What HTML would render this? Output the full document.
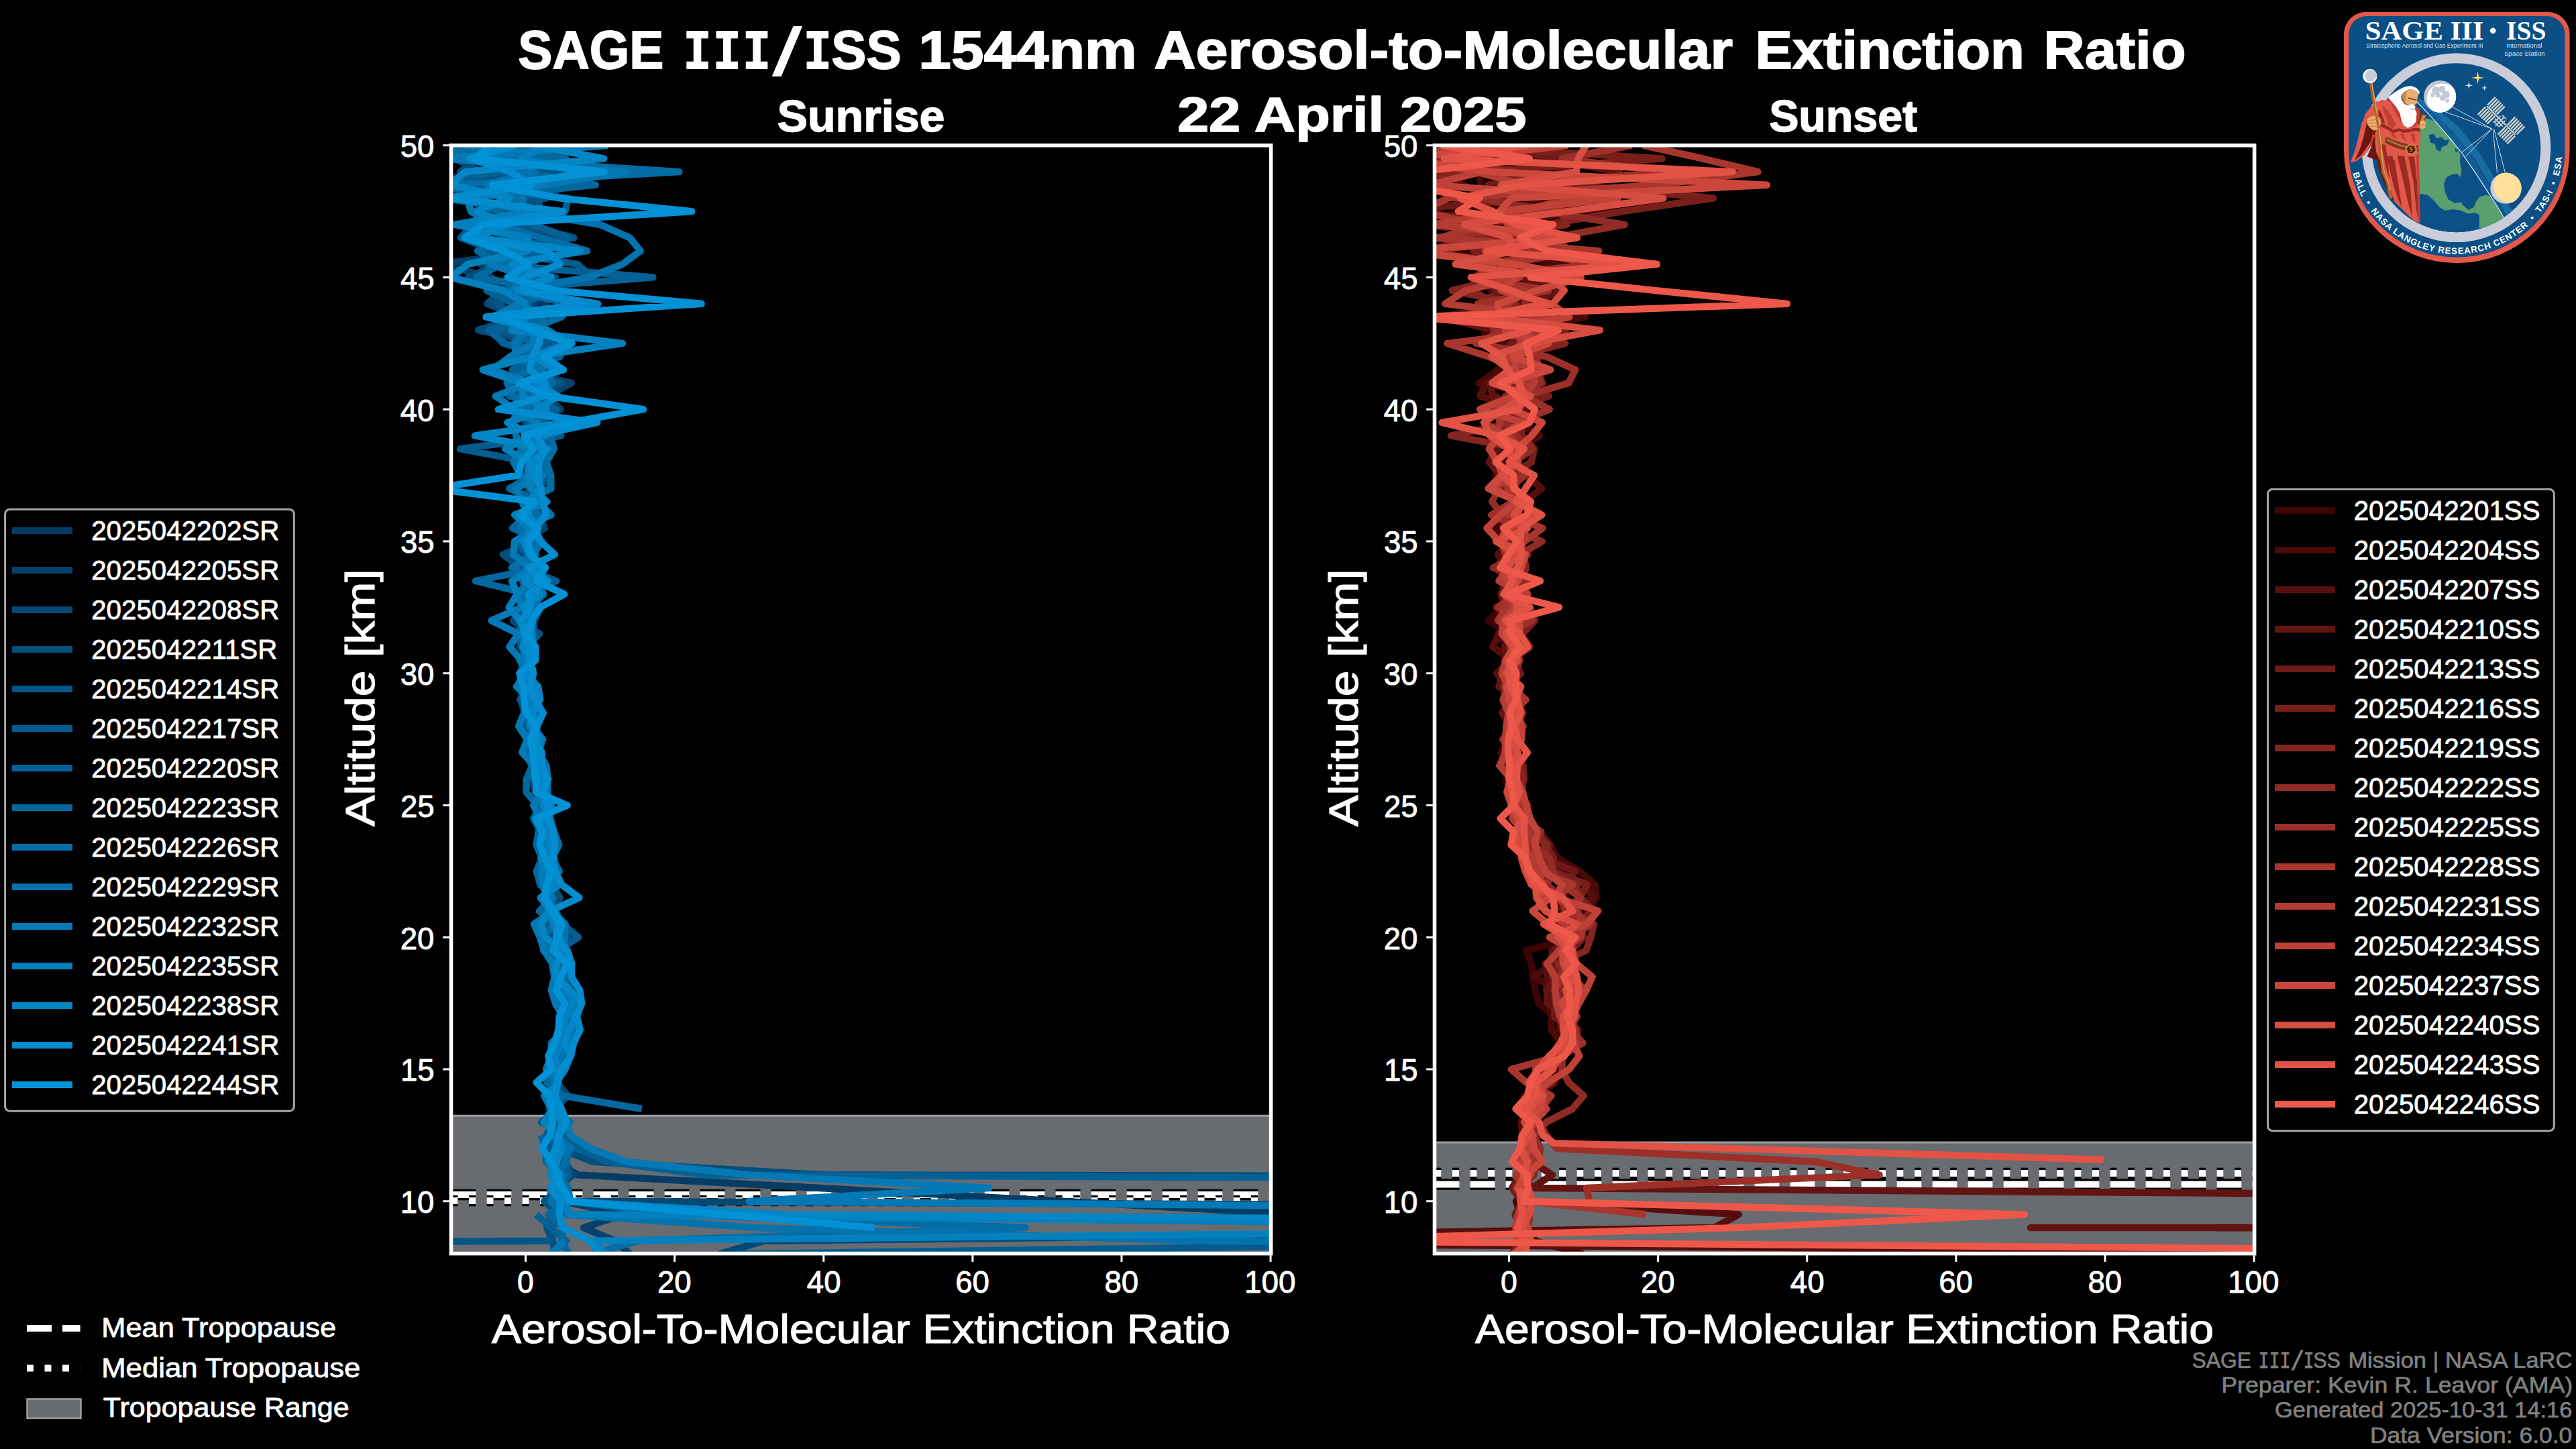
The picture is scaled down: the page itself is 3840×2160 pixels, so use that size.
<!DOCTYPE html>
<html><head><meta charset="utf-8"><title>SAGE III/ISS 1544nm Aerosol-to-Molecular Extinction Ratio</title>
<style>
html,body{margin:0;padding:0;background:#000;width:100%;height:100%;overflow:hidden}
svg{display:block;position:absolute;left:0;top:0;width:100vw;height:100vh}
text{white-space:pre}
</style></head><body>
<svg width="3840" height="2160" viewBox="0 0 3840 2160">
<rect width="3840" height="2160" fill="#000"/>
<defs>
<clipPath id="clip0"><rect x="672.50" y="216.70" width="1222.10" height="1651.90"/></clipPath>
<clipPath id="clip1"><rect x="2138.50" y="216.70" width="1222.10" height="1651.90"/></clipPath>
</defs>
<g clip-path="url(#clip0)">
<rect x="672.50" y="1663.21" width="1222.10" height="215.39" fill="#686b70"/>
<line x1="672.50" x2="1894.60" y1="1663.21" y2="1663.21" stroke="#9c9ea2" stroke-width="3"/>
<line x1="672.50" x2="1894.60" y1="1781.02" y2="1781.02" stroke="#000" stroke-width="16.5" stroke-dasharray="37 16"/>
<line x1="672.50" x2="1894.60" y1="1781.02" y2="1781.02" stroke="#fff" stroke-width="10" stroke-dasharray="37 16"/>
<line x1="672.50" x2="1894.60" y1="1789.99" y2="1789.99" stroke="#000" stroke-width="16.5" stroke-dasharray="10 16.5"/>
<line x1="672.50" x2="1894.60" y1="1789.99" y2="1789.99" stroke="#fff" stroke-width="10" stroke-dasharray="10 16.5"/>
</g>
<g clip-path="url(#clip1)">
<rect x="2138.50" y="1702.95" width="1222.10" height="175.65" fill="#686b70"/>
<line x1="2138.50" x2="3360.60" y1="1702.95" y2="1702.95" stroke="#9c9ea2" stroke-width="3"/>
<line x1="2138.50" x2="3360.60" y1="1765.52" y2="1765.52" stroke="#000" stroke-width="16.5" stroke-dasharray="37 16"/>
<line x1="2138.50" x2="3360.60" y1="1765.52" y2="1765.52" stroke="#fff" stroke-width="10" stroke-dasharray="37 16"/>
<line x1="2138.50" x2="3360.60" y1="1748.99" y2="1748.99" stroke="#000" stroke-width="16.5" stroke-dasharray="10 16.5"/>
<line x1="2138.50" x2="3360.60" y1="1748.99" y2="1748.99" stroke="#fff" stroke-width="10" stroke-dasharray="10 16.5"/>
</g>
<g clip-path="url(#clip0)" fill="none" stroke-width="10.4" stroke-linejoin="round" stroke-linecap="butt">
<path d="M861.9 216.7 L739.5 236.4 L731.0 256.1 L603.7 275.7 L763.0 295.4 L746.6 315.1 L736.2 334.8 L789.1 354.4 L795.9 374.1 L717.1 393.8 L730.7 413.4 L758.2 433.1 L813.1 452.8 L808.0 472.5 L736.2 492.1 L748.8 511.8 L813.1 531.5 L837.0 551.2 L787.8 570.9 L770.8 590.5 L819.4 610.2 L782.9 629.9 L809.0 649.5 L826.6 669.2 L807.0 688.9 L798.4 708.6 L805.5 728.2 L781.7 747.9 L788.7 767.6 L782.5 787.3 L787.2 807.0 L783.6 826.6 L786.7 846.3 L784.6 866.0 L789.5 885.7 L787.0 905.3 L788.8 925.0 L798.5 944.7 L774.3 964.3 L795.4 984.0 L783.8 1003.7 L778.6 1023.4 L786.8 1043.0 L791.7 1062.7 L799.1 1082.4 L789.2 1102.1 L798.2 1121.8 L800.8 1141.4 L792.6 1161.1 L797.9 1180.8 L812.3 1200.5 L814.8 1220.1 L817.4 1239.8 L814.9 1259.5 L814.8 1279.2 L811.9 1298.8 L822.0 1318.5 L809.5 1338.2 L816.1 1357.9 L823.7 1377.5 L808.4 1397.2 L840.9 1416.9 L824.6 1436.6 L833.5 1456.2 L856.7 1475.9 L835.4 1495.6 L838.8 1515.2 L849.0 1534.9 L823.2 1554.6 L818.9 1574.3 L820.0 1594.0 L820.0 1613.6 L821.2 1633.3 L818.3 1653.0 L827.0 1672.7 L827.2 1692.3 L823.5 1712.0 L828.0 1731.7 L861.3 1751.4 L1222.2 1771.0 L1583.1 1790.7 L1944.0 1810.4 L4115.1 1830.1" stroke="#043c64"/>
<path d="M812.5 216.7 L680.1 236.4 L813.6 256.1 L806.5 275.7 L695.5 295.4 L772.1 315.1 L709.8 334.8 L833.8 354.4 L811.6 374.1 L652.0 393.8 L732.4 413.4 L760.5 433.1 L795.0 452.8 L807.5 472.5 L778.5 492.1 L843.4 511.8 L779.8 531.5 L765.6 551.2 L852.0 570.9 L815.6 590.5 L835.7 610.2 L793.8 629.9 L788.5 649.5 L798.7 669.2 L800.5 688.9 L814.3 708.6 L816.8 728.2 L785.4 747.9 L804.1 767.6 L811.9 787.3 L773.2 807.0 L782.5 826.6 L801.6 846.3 L783.5 866.0 L781.4 885.7 L778.9 905.3 L787.3 925.0 L796.9 944.7 L791.5 964.3 L792.1 984.0 L789.9 1003.7 L797.1 1023.4 L774.8 1043.0 L800.7 1062.7 L792.6 1082.4 L803.0 1102.1 L795.2 1121.8 L804.3 1141.4 L817.9 1161.1 L803.3 1180.8 L810.2 1200.5 L815.6 1220.1 L815.4 1239.8 L819.2 1259.5 L826.5 1279.2 L829.1 1298.8 L816.3 1318.5 L830.7 1338.2 L828.4 1357.9 L830.2 1377.5 L843.9 1397.2 L836.1 1416.9 L838.9 1436.6 L837.2 1456.2 L852.2 1475.9 L857.3 1495.6 L841.5 1515.2 L854.7 1534.9 L844.0 1554.6 L822.5 1574.3 L824.4 1594.0 L824.2 1613.6 L831.8 1633.3 L834.7 1653.0 L831.9 1672.7 L835.5 1692.3 L825.0 1712.0 L822.4 1731.7 L844.6 1751.4 L833.5 1771.0 L839.1 1790.7 L929.0 1810.4 L870.2 1830.1 L916.8 1849.7 L939.0 1869.4" stroke="#04426c"/>
<path d="M739.9 216.7 L677.6 236.4 L718.2 256.1 L857.5 275.7 L777.8 295.4 L745.9 315.1 L691.3 334.8 L768.1 354.4 L775.9 374.1 L743.5 393.8 L828.3 413.4 L754.1 433.1 L777.9 452.8 L822.0 472.5 L799.2 492.1 L829.7 511.8 L781.8 531.5 L777.0 551.2 L805.6 570.9 L795.5 590.5 L820.6 610.2 L800.3 629.9 L789.4 649.5 L799.8 669.2 L802.9 688.9 L772.5 708.6 L788.6 728.2 L785.4 747.9 L806.7 767.6 L782.9 787.3 L802.1 807.0 L773.3 826.6 L787.1 846.3 L799.2 866.0 L782.4 885.7 L795.9 905.3 L764.9 925.0 L785.5 944.7 L788.1 964.3 L786.1 984.0 L776.7 1003.7 L792.3 1023.4 L775.7 1043.0 L797.0 1062.7 L795.8 1082.4 L800.4 1102.1 L796.3 1121.8 L794.7 1141.4 L799.5 1161.1 L802.7 1180.8 L812.0 1200.5 L809.0 1220.1 L813.2 1239.8 L814.4 1259.5 L819.8 1279.2 L801.3 1298.8 L812.1 1318.5 L818.3 1338.2 L819.5 1357.9 L815.0 1377.5 L823.4 1397.2 L826.5 1416.9 L833.1 1436.6 L831.2 1456.2 L835.0 1475.9 L836.3 1495.6 L843.8 1515.2 L853.6 1534.9 L831.2 1554.6 L839.7 1574.3 L841.2 1594.0 L829.9 1613.6 L846.6 1633.3 L827.3 1653.0 L846.2 1672.7 L829.0 1692.3 L821.5 1712.0 L840.8 1731.7 L854.9 1751.4 L828.0 1771.0 L850.2 1790.7 L5225.6 1810.4 L2937.9 1830.1 L1138.9 1849.7 L1072.3 1869.4" stroke="#044874"/>
<path d="M792.4 216.7 L712.3 236.4 L685.8 256.1 L840.3 275.7 L814.0 295.4 L705.0 315.1 L763.7 334.8 L845.8 354.4 L758.8 374.1 L745.4 393.8 L698.4 413.4 L747.7 433.1 L726.5 452.8 L778.3 472.5 L713.0 492.1 L807.4 511.8 L808.2 531.5 L777.6 551.2 L774.3 570.9 L829.5 590.5 L764.7 610.2 L815.0 629.9 L810.7 649.5 L775.8 669.2 L778.1 688.9 L791.6 708.6 L792.2 728.2 L778.3 747.9 L796.6 767.6 L767.7 787.3 L797.8 807.0 L749.9 826.6 L776.2 846.3 L781.1 866.0 L796.7 885.7 L776.2 905.3 L796.0 925.0 L796.2 944.7 L787.7 964.3 L781.9 984.0 L775.2 1003.7 L788.7 1023.4 L795.9 1043.0 L786.6 1062.7 L792.5 1082.4 L790.3 1102.1 L805.5 1121.8 L802.2 1141.4 L810.8 1161.1 L803.0 1180.8 L812.1 1200.5 L815.5 1220.1 L811.7 1239.8 L817.6 1259.5 L811.6 1279.2 L815.1 1298.8 L821.5 1318.5 L834.7 1338.2 L827.9 1357.9 L829.3 1377.5 L813.0 1397.2 L825.5 1416.9 L845.0 1436.6 L845.0 1456.2 L849.6 1475.9 L855.1 1495.6 L850.4 1515.2 L835.5 1534.9 L848.9 1554.6 L839.9 1574.3 L824.0 1594.0 L832.8 1613.6 L830.3 1633.3 L826.5 1653.0 L840.4 1672.7 L823.0 1692.3 L833.5 1712.0 L883.5 1731.7 L1227.8 1751.4 L10778.1 1771.0M824.2 1810.4 L815.2 1830.1 L824.2 1849.7 L826.8 1869.4" stroke="#044e7c"/>
<path d="M787.0 216.7 L781.0 236.4 L832.1 256.1 L631.5 275.7 L800.1 295.4 L807.1 315.1 L775.3 334.8 L855.4 354.4 L722.4 374.1 L795.2 393.8 L757.8 413.4 L779.1 433.1 L739.6 452.8 L778.3 472.5 L810.3 492.1 L791.1 511.8 L799.5 531.5 L764.5 551.2 L836.6 570.9 L770.7 590.5 L791.0 610.2 L805.7 629.9 L788.3 649.5 L809.3 669.2 L795.6 688.9 L819.7 708.6 L798.5 728.2 L795.0 747.9 L778.3 767.6 L796.0 787.3 L801.7 807.0 L792.2 826.6 L775.1 846.3 L779.0 866.0 L784.1 885.7 L786.8 905.3 L772.1 925.0 L804.2 944.7 L785.0 964.3 L786.1 984.0 L781.9 1003.7 L786.9 1023.4 L802.1 1043.0 L787.2 1062.7 L792.6 1082.4 L792.1 1102.1 L797.7 1121.8 L810.3 1141.4 L803.4 1161.1 L806.9 1180.8 L803.5 1200.5 L812.2 1220.1 L817.5 1239.8 L813.6 1259.5 L814.7 1279.2 L822.3 1298.8 L820.0 1318.5 L819.2 1338.2 L815.8 1357.9 L811.4 1377.5 L846.1 1397.2 L818.6 1416.9 L841.9 1436.6 L835.4 1456.2 L836.7 1475.9 L851.6 1495.6 L840.1 1515.2 L852.2 1534.9 L829.4 1554.6 L833.8 1574.3 L832.6 1594.0 L818.1 1613.6 L838.7 1633.3 L833.0 1653.0 L807.2 1672.7 L848.9 1692.3 L856.7 1712.0 L831.6 1731.7 L831.6 1751.4 L836.1 1771.0 L811.0 1790.7 L834.1 1810.4 L822.4 1830.1 L822.4 1849.7 L-2548.0 1869.4" stroke="#045585"/>
<path d="M730.9 216.7 L793.0 236.4 L744.2 256.1 L855.0 275.7 L662.6 295.4 L784.6 315.1 L703.8 334.8 L687.0 354.4 L738.1 374.1 L860.9 393.8 L882.3 413.4 L769.4 433.1 L789.4 452.8 L772.7 472.5 L739.5 492.1 L826.1 511.8 L788.1 531.5 L816.0 551.2 L782.5 570.9 L776.9 590.5 L779.8 610.2 L787.1 629.9 L836.3 649.5 L685.8 669.2 L792.1 688.9 L792.6 708.6 L759.4 728.2 L806.5 747.9 L786.8 767.6 L801.4 787.3 L801.1 807.0 L788.7 826.6 L780.0 846.3 L829.2 866.0 L774.0 885.7 L798.6 905.3 L790.7 925.0 L769.8 944.7 L778.1 964.3 L784.6 984.0 L783.2 1003.7 L781.1 1023.4 L776.5 1043.0 L782.1 1062.7 L783.2 1082.4 L794.2 1102.1 L797.0 1121.8 L797.7 1141.4 L807.5 1161.1 L808.3 1180.8 L808.9 1200.5 L810.1 1220.1 L805.2 1239.8 L822.4 1259.5 L811.7 1279.2 L823.2 1298.8 L811.4 1318.5 L820.8 1338.2 L827.9 1357.9 L838.7 1377.5 L862.2 1397.2 L831.5 1416.9 L840.4 1436.6 L849.3 1456.2 L846.5 1475.9 L864.3 1495.6 L854.6 1515.2 L857.7 1534.9 L841.8 1554.6 L834.6 1574.3 L823.9 1594.0 L825.9 1613.6 L833.3 1633.3 L836.2 1653.0 L825.5 1672.7 L814.4 1692.3 L825.1 1712.0 L843.7 1731.7 L847.6 1751.4 L833.6 1771.0 L833.8 1790.7 L839.1 1810.4 L5225.6 1830.1 L2515.9 1849.7 L1094.5 1869.4" stroke="#045b8d"/>
<path d="M744.7 216.7 L842.3 236.4 L743.0 256.1 L627.9 275.7 L846.6 295.4 L842.7 315.1 L795.0 334.8 L847.6 354.4 L808.8 374.1 L726.1 393.8 L973.4 413.4 L725.6 433.1 L765.9 452.8 L804.5 472.5 L728.6 492.1 L752.1 511.8 L835.2 531.5 L763.9 551.2 L765.3 570.9 L759.0 590.5 L829.3 610.2 L804.8 629.9 L807.2 649.5 L821.6 669.2 L807.9 688.9 L814.2 708.6 L795.8 728.2 L802.5 747.9 L797.0 767.6 L796.2 787.3 L772.4 807.0 L785.6 826.6 L783.3 846.3 L779.9 866.0 L786.7 885.7 L806.1 905.3 L796.1 925.0 L786.0 944.7 L788.2 964.3 L795.0 984.0 L774.7 1003.7 L786.6 1023.4 L796.0 1043.0 L798.7 1062.7 L795.0 1082.4 L795.3 1102.1 L784.4 1121.8 L792.4 1141.4 L798.0 1161.1 L803.6 1180.8 L805.7 1200.5 L795.2 1220.1 L805.8 1239.8 L811.7 1259.5 L806.5 1279.2 L810.3 1298.8 L817.9 1318.5 L815.6 1338.2 L815.0 1357.9 L825.0 1377.5 L835.8 1397.2 L824.2 1416.9 L823.1 1436.6 L826.4 1456.2 L834.5 1475.9 L841.0 1495.6 L833.4 1515.2 L833.8 1534.9 L835.1 1554.6 L838.8 1574.3 L826.5 1594.0 L818.3 1613.6 L826.2 1633.3 L822.1 1653.0 L820.1 1672.7 L844.6 1692.3 L861.3 1712.0 L905.7 1731.7 L1050.1 1751.4 L5225.6 1771.0M799.3 1810.4 L821.4 1830.1 L843.8 1849.7 L822.4 1869.4" stroke="#046195"/>
<path d="M646.6 216.7 L843.5 236.4 L772.0 256.1 L887.9 275.7 L692.0 295.4 L744.7 315.1 L754.1 334.8 L771.4 354.4 L711.8 374.1 L747.3 393.8 L710.3 413.4 L833.2 433.1 L771.5 452.8 L810.3 472.5 L765.4 492.1 L790.6 511.8 L774.9 531.5 L808.4 551.2 L825.1 570.9 L778.5 590.5 L795.2 610.2 L805.7 629.9 L792.5 649.5 L801.2 669.2 L786.3 688.9 L796.2 708.6 L759.5 728.2 L799.8 747.9 L785.6 767.6 L764.1 787.3 L805.7 807.0 L787.7 826.6 L807.7 846.3 L709.1 866.0 L789.8 885.7 L792.5 905.3 L787.7 925.0 L770.6 944.7 L787.1 964.3 L778.7 984.0 L778.8 1003.7 L789.0 1023.4 L786.0 1043.0 L790.5 1062.7 L791.1 1082.4 L789.3 1102.1 L791.4 1121.8 L793.4 1141.4 L784.8 1161.1 L784.5 1180.8 L801.1 1200.5 L804.3 1220.1 L802.7 1239.8 L799.6 1259.5 L807.9 1279.2 L799.9 1298.8 L805.2 1318.5 L824.5 1338.2 L803.8 1357.9 L827.2 1377.5 L832.9 1397.2 L810.3 1416.9 L833.4 1436.6 L833.1 1456.2 L843.8 1475.9 L846.5 1495.6 L848.5 1515.2 L849.2 1534.9 L837.4 1554.6 L823.6 1574.3 L817.4 1594.0 L815.1 1613.6 L839.1 1633.3 L956.8 1653.0M806.7 1692.3 L812.9 1712.0 L813.9 1731.7 L842.1 1751.4 L833.8 1771.0 L850.4 1790.7 L817.0 1810.4 L840.5 1830.1 L836.9 1849.7 L848.2 1869.4" stroke="#04679d"/>
<path d="M660.8 216.7 L703.2 236.4 L1012.3 256.1 L672.1 275.7 L767.8 295.4 L777.6 315.1 L744.2 334.8 L805.2 354.4 L875.2 374.1 L741.2 393.8 L804.1 413.4 L758.6 433.1 L851.7 452.8 L837.1 472.5 L785.7 492.1 L765.5 511.8 L814.5 531.5 L789.0 551.2 L755.7 570.9 L765.6 590.5 L789.0 610.2 L848.2 629.9 L820.9 649.5 L825.7 669.2 L814.6 688.9 L821.2 708.6 L821.4 728.2 L779.9 747.9 L803.0 767.6 L801.0 787.3 L798.8 807.0 L798.6 826.6 L762.9 846.3 L794.4 866.0 L775.5 885.7 L800.0 905.3 L784.0 925.0 L787.2 944.7 L788.6 964.3 L774.6 984.0 L788.0 1003.7 L784.0 1023.4 L798.3 1043.0 L790.6 1062.7 L789.3 1082.4 L805.6 1102.1 L800.7 1121.8 L798.7 1141.4 L803.7 1161.1 L806.7 1180.8 L812.3 1200.5 L806.5 1220.1 L817.8 1239.8 L813.1 1259.5 L822.7 1279.2 L819.9 1298.8 L809.9 1318.5 L824.4 1338.2 L818.1 1357.9 L829.0 1377.5 L807.7 1397.2 L822.3 1416.9 L847.2 1436.6 L848.7 1456.2 L827.7 1475.9 L847.8 1495.6 L854.5 1515.2 L856.5 1534.9 L834.7 1554.6 L824.4 1574.3 L831.6 1594.0 L826.6 1613.6 L826.1 1633.3 L825.0 1653.0 L849.3 1672.7 L828.4 1692.3 L848.1 1712.0 L844.7 1731.7 L829.6 1751.4 L846.9 1771.0 L850.2 1790.7 L1005.7 1810.4 L1528.7 1830.1 L950.1 1849.7 L883.5 1869.4" stroke="#046da5"/>
<path d="M693.3 216.7 L779.2 236.4 L795.2 256.1 L725.4 275.7 L780.1 295.4 L777.2 315.1 L894.6 334.8 L939.0 354.4 L954.6 374.1 L927.9 393.8 L877.9 413.4 L764.3 433.1 L870.9 452.8 L777.8 472.5 L785.4 492.1 L769.7 511.8 L767.0 531.5 L808.2 551.2 L788.2 570.9 L800.0 590.5 L769.9 610.2 L765.5 629.9 L769.2 649.5 L778.0 669.2 L765.7 688.9 L776.4 708.6 L792.1 728.2 L800.5 747.9 L821.7 767.6 L775.8 787.3 L807.6 807.0 L795.0 826.6 L798.6 846.3 L802.7 866.0 L810.1 885.7 L789.6 905.3 L782.6 925.0 L793.8 944.7 L795.0 964.3 L793.5 984.0 L785.4 1003.7 L794.3 1023.4 L799.3 1043.0 L797.5 1062.7 L793.6 1082.4 L809.1 1102.1 L802.4 1121.8 L814.4 1141.4 L816.4 1161.1 L816.4 1180.8 L818.7 1200.5 L820.4 1220.1 L826.0 1239.8 L833.2 1259.5 L823.1 1279.2 L833.6 1298.8 L816.6 1318.5 L821.2 1338.2 L822.0 1357.9 L842.6 1377.5 L841.9 1397.2 L841.2 1416.9 L852.4 1436.6 L832.3 1456.2 L843.0 1475.9 L831.2 1495.6 L855.8 1515.2 L856.8 1534.9 L846.9 1554.6 L837.1 1574.3 L839.0 1594.0 L827.1 1613.6 L821.4 1633.3 L831.4 1653.0 L823.7 1672.7 L823.0 1692.3 L851.4 1712.0 L823.2 1731.7 L831.4 1751.4 L831.2 1771.0 L821.5 1790.7 L839.1 1810.4 L1127.8 1830.1 L1783.0 1849.7 L4115.1 1869.4" stroke="#0473ad"/>
<path d="M905.7 216.7 L658.6 236.4 L932.3 256.1 L810.9 275.7 L696.5 295.4 L701.9 315.1 L733.8 334.8 L718.3 354.4 L778.6 374.1 L731.1 393.8 L788.0 413.4 L762.7 433.1 L774.5 452.8 L736.0 472.5 L793.5 492.1 L796.6 511.8 L760.7 531.5 L734.6 551.2 L789.4 570.9 L738.8 590.5 L767.4 610.2 L798.6 629.9 L815.0 649.5 L781.2 669.2 L793.8 688.9 L808.9 708.6 L768.1 728.2 L777.9 747.9 L787.7 767.6 L800.1 787.3 L767.0 807.0 L765.1 826.6 L791.5 846.3 L791.8 866.0 L770.2 885.7 L778.2 905.3 L732.5 925.0 L772.9 944.7 L759.5 964.3 L777.1 984.0 L783.4 1003.7 L770.0 1023.4 L789.8 1043.0 L781.4 1062.7 L773.1 1082.4 L786.0 1102.1 L778.2 1121.8 L796.4 1141.4 L796.1 1161.1 L808.3 1180.8 L795.2 1200.5 L805.0 1220.1 L811.6 1239.8 L809.9 1259.5 L809.0 1279.2 L806.9 1298.8 L809.8 1318.5 L814.9 1338.2 L824.6 1357.9 L796.0 1377.5 L805.1 1397.2 L811.0 1416.9 L823.8 1436.6 L826.7 1456.2 L821.9 1475.9 L828.0 1495.6 L838.9 1515.2 L841.5 1534.9 L822.3 1554.6 L821.8 1574.3 L814.1 1594.0 L832.5 1613.6 L811.2 1633.3 L821.9 1653.0 L844.6 1672.7 L850.2 1692.3 L880.2 1712.0 L933.5 1731.7 L1116.7 1751.4 L1474.3 1771.0 L1116.7 1790.7 L3559.8 1810.4M841.1 1849.7 L822.0 1869.4" stroke="#0479b5"/>
<path d="M812.5 216.7 L777.9 236.4 L862.4 256.1 L789.0 275.7 L698.6 295.4 L791.6 315.1 L677.2 334.8 L787.7 354.4 L786.7 374.1 L697.3 393.8 L671.4 413.4 L750.0 433.1 L783.5 452.8 L785.6 472.5 L762.6 492.1 L927.9 511.8 L793.4 531.5 L719.7 551.2 L778.1 570.9 L778.7 590.5 L815.0 610.2 L756.3 629.9 L794.6 649.5 L753.4 669.2 L788.7 688.9 L787.4 708.6 L791.6 728.2 L815.6 747.9 L767.2 767.6 L789.6 787.3 L784.0 807.0 L794.4 826.6 L798.1 846.3 L763.1 866.0 L770.9 885.7 L758.8 905.3 L775.2 925.0 L782.9 944.7 L779.7 964.3 L786.3 984.0 L783.2 1003.7 L787.6 1023.4 L786.2 1043.0 L790.1 1062.7 L790.4 1082.4 L806.6 1102.1 L798.5 1121.8 L801.5 1141.4 L810.9 1161.1 L808.3 1180.8 L810.1 1200.5 L812.3 1220.1 L813.0 1239.8 L818.8 1259.5 L806.6 1279.2 L814.3 1298.8 L834.2 1318.5 L805.5 1338.2 L822.0 1357.9 L825.1 1377.5 L834.6 1397.2 L840.2 1416.9 L829.5 1436.6 L828.1 1456.2 L846.0 1475.9 L854.7 1495.6 L843.7 1515.2 L837.5 1534.9 L838.1 1554.6 L828.0 1574.3 L829.7 1594.0 L831.7 1613.6 L816.0 1633.3 L824.0 1653.0 L810.5 1672.7 L828.9 1692.3 L838.5 1712.0 L826.9 1731.7 L820.5 1751.4 L835.6 1771.0 L839.1 1790.7 L850.2 1810.4 L2782.5 1830.1 L883.5 1849.7 L905.7 1869.4" stroke="#0480be"/>
<path d="M793.6 216.7 L900.2 236.4 L693.5 256.1 L671.5 275.7 L759.0 295.4 L711.2 315.1 L757.5 334.8 L710.3 354.4 L865.1 374.1 L762.6 393.8 L822.3 413.4 L772.1 433.1 L891.2 452.8 L732.5 472.5 L816.4 492.1 L845.5 511.8 L796.6 531.5 L828.7 551.2 L799.5 570.9 L831.7 590.5 L800.5 610.2 L843.2 629.9 L708.0 649.5 L816.3 669.2 L791.4 688.9 L793.1 708.6 L807.0 728.2 L788.6 747.9 L787.5 767.6 L802.0 787.3 L780.3 807.0 L789.7 826.6 L805.8 846.3 L782.2 866.0 L804.7 885.7 L780.3 905.3 L794.0 925.0 L791.7 944.7 L779.6 964.3 L796.5 984.0 L782.1 1003.7 L802.1 1023.4 L805.1 1043.0 L793.2 1062.7 L800.1 1082.4 L800.2 1102.1 L796.3 1121.8 L802.9 1141.4 L807.6 1161.1 L811.3 1180.8 L821.9 1200.5 L813.7 1220.1 L813.8 1239.8 L822.7 1259.5 L826.2 1279.2 L819.2 1298.8 L822.4 1318.5 L813.5 1338.2 L818.1 1357.9 L806.6 1377.5 L812.5 1397.2 L839.7 1416.9 L829.5 1436.6 L827.9 1456.2 L849.5 1475.9 L867.3 1495.6 L857.0 1515.2 L849.0 1534.9 L842.7 1554.6 L850.3 1574.3 L842.5 1594.0 L829.2 1613.6 L824.7 1633.3 L828.3 1653.0 L837.4 1672.7 L833.5 1692.3 L833.4 1712.0 L830.4 1731.7 L820.8 1751.4 L833.5 1771.0 L844.6 1790.7 L1172.2 1810.4 L3670.8 1830.1" stroke="#0486c6"/>
<path d="M768.6 216.7 L700.4 236.4 L760.7 256.1 L792.3 275.7 L666.7 295.4 L839.1 315.1 L718.9 334.8 L700.7 354.4 L816.6 374.1 L834.9 393.8 L780.8 413.4 L781.6 433.1 L870.3 452.8 L724.5 472.5 L806.5 492.1 L803.7 511.8 L793.7 531.5 L790.1 551.2 L813.0 570.9 L811.2 590.5 L742.9 610.2 L890.2 629.9 L799.1 649.5 L812.5 669.2 L803.9 688.9 L802.0 708.6 L805.4 728.2 L809.7 747.9 L813.9 767.6 L798.1 787.3 L805.5 807.0 L827.1 826.6 L786.7 846.3 L816.7 866.0 L787.9 885.7 L791.2 905.3 L777.4 925.0 L781.6 944.7 L786.6 964.3 L790.9 984.0 L795.2 1003.7 L790.3 1023.4 L797.5 1043.0 L809.8 1062.7 L800.7 1082.4 L797.3 1102.1 L807.8 1121.8 L807.5 1141.4 L816.1 1161.1 L811.1 1180.8 L816.0 1200.5 L817.4 1220.1 L824.4 1239.8 L826.8 1259.5 L822.1 1279.2 L827.8 1298.8 L837.1 1318.5 L863.5 1338.2 L820.7 1357.9 L833.0 1377.5 L829.0 1397.2 L846.0 1416.9 L852.1 1436.6 L852.0 1456.2 L864.3 1475.9 L867.1 1495.6 L859.8 1515.2 L864.8 1534.9 L855.3 1554.6 L850.9 1574.3 L836.3 1594.0 L831.6 1613.6 L827.0 1633.3 L837.1 1653.0 L844.6 1672.7 L833.7 1692.3 L828.0 1712.0 L818.0 1731.7 L834.7 1751.4 L820.3 1771.0 L835.8 1790.7 L833.5 1810.4 L839.1 1830.1 L880.2 1849.7 L894.6 1869.4" stroke="#048cce"/>
<path d="M730.1 216.7 L708.7 236.4 L900.9 256.1 L733.5 275.7 L833.7 295.4 L1031.2 315.1 L718.9 334.8 L692.9 354.4 L751.6 374.1 L788.4 393.8 L756.6 413.4 L827.9 433.1 L1045.6 452.8 L751.7 472.5 L792.5 492.1 L852.7 511.8 L810.5 531.5 L840.0 551.2 L773.5 570.9 L817.6 590.5 L959.0 610.2 L849.3 629.9 L781.7 649.5 L794.8 669.2 L777.4 688.9 L772.1 708.6 L644.7 728.2 L797.6 747.9 L775.2 767.6 L801.7 787.3 L787.7 807.0 L790.0 826.6 L813.2 846.3 L799.2 866.0 L841.3 885.7 L805.5 905.3 L791.6 925.0 L785.7 944.7 L798.2 964.3 L798.4 984.0 L774.4 1003.7 L780.3 1023.4 L781.2 1043.0 L784.3 1062.7 L798.5 1082.4 L791.1 1102.1 L794.5 1121.8 L796.5 1141.4 L798.4 1161.1 L799.4 1180.8 L845.7 1200.5 L798.9 1220.1 L808.3 1239.8 L804.7 1259.5 L812.6 1279.2 L821.6 1298.8 L814.9 1318.5 L812.0 1338.2 L825.1 1357.9 L837.5 1377.5 L831.7 1397.2 L824.5 1416.9 L845.4 1436.6 L836.2 1456.2 L829.3 1475.9 L842.4 1495.6 L834.2 1515.2 L832.5 1534.9 L827.1 1554.6 L817.5 1574.3 L821.5 1594.0 L799.6 1613.6 L819.3 1633.3 L822.4 1653.0 L823.6 1672.7 L819.8 1692.3 L807.6 1712.0 L822.3 1731.7 L830.0 1751.4 L839.1 1771.0 L851.3 1790.7 L1080.1 1810.4 L1303.3 1830.1" stroke="#0492d6"/>
</g>
<g clip-path="url(#clip1)" fill="none" stroke-width="10.4" stroke-linejoin="round" stroke-linecap="butt">
<path d="M2294.2 216.7 L2241.6 236.4 L2175.6 256.1 L2323.2 275.7 L2302.3 295.4 L2164.0 315.1 L2221.1 334.8 L2165.6 354.4 L2158.1 374.1 L2376.8 393.8 L2232.1 413.4 L2295.3 433.1 L2274.0 452.8 L2258.3 472.5 L2211.5 492.1 L2217.5 511.8 L2273.8 531.5 L2293.7 551.2 L2204.1 570.9 L2231.1 590.5 L2250.2 610.2 L2277.1 629.9 L2261.9 649.5 L2264.2 669.2 L2251.3 688.9 L2228.5 708.6 L2241.8 728.2 L2267.0 747.9 L2249.9 767.6 L2225.8 787.3 L2268.5 807.0 L2254.3 826.6 L2257.6 846.3 L2275.1 866.0 L2239.6 885.7 L2239.0 905.3 L2219.0 925.0 L2250.5 944.7 L2253.8 964.3 L2245.1 984.0 L2246.8 1003.7 L2256.1 1023.4 L2252.2 1043.0 L2252.7 1062.7 L2250.0 1082.4 L2251.9 1102.1 L2255.5 1121.8 L2250.0 1141.4 L2244.4 1161.1 L2251.1 1180.8 L2258.5 1200.5 L2276.3 1220.1 L2292.9 1239.8 L2298.4 1259.5 L2302.1 1279.2 L2293.8 1298.8 L2346.1 1318.5 L2332.6 1338.2 L2348.3 1357.9 L2367.4 1377.5 L2353.1 1397.2 L2275.1 1416.9 L2282.9 1436.6 L2285.1 1456.2 L2288.4 1475.9 L2294.0 1495.6 L2316.2 1515.2 L2354.3 1534.9 L2322.6 1554.6 L2321.3 1574.3 L2311.9 1594.0 L2311.1 1613.6 L2282.8 1633.3 L2298.2 1653.0 L2280.5 1672.7 L2269.9 1692.3 L2273.5 1712.0 L2274.9 1731.7 L2269.4 1751.4 L2264.7 1771.0 L2267.0 1790.7 L2274.0 1810.4 L2274.2 1830.1 L2280.9 1849.7 L2261.7 1869.4" stroke="#3e0304"/>
<path d="M2107.6 216.7 L2157.8 236.4 L2205.7 256.1 L2206.9 275.7 L2210.5 295.4 L2395.8 315.1 L2141.2 334.8 L2229.4 354.4 L2218.0 374.1 L2331.7 393.8 L2207.1 413.4 L2222.5 433.1 L2271.1 452.8 L2362.7 472.5 L2239.8 492.1 L2240.9 511.8 L2292.8 531.5 L2232.7 551.2 L2206.3 570.9 L2308.2 590.5 L2225.7 610.2 L2261.0 629.9 L2295.4 649.5 L2267.8 669.2 L2238.7 688.9 L2254.9 708.6 L2233.3 728.2 L2277.4 747.9 L2239.7 767.6 L2216.1 787.3 L2264.2 807.0 L2267.3 826.6 L2259.2 846.3 L2267.1 866.0 L2246.9 885.7 L2239.7 905.3 L2242.5 925.0 L2233.1 944.7 L2246.4 964.3 L2243.5 984.0 L2257.5 1003.7 L2252.3 1023.4 L2244.9 1043.0 L2247.0 1062.7 L2250.4 1082.4 L2249.5 1102.1 L2237.6 1121.8 L2244.2 1141.4 L2255.1 1161.1 L2257.3 1180.8 L2263.6 1200.5 L2277.5 1220.1 L2295.7 1239.8 L2310.6 1259.5 L2321.7 1279.2 L2355.0 1298.8 L2377.3 1318.5 L2379.5 1338.2 L2366.2 1357.9 L2360.3 1377.5 L2357.4 1397.2 L2313.2 1416.9 L2316.7 1436.6 L2284.6 1456.2 L2325.3 1475.9 L2308.1 1495.6 L2312.7 1515.2 L2312.6 1534.9 L2326.9 1554.6 L2316.2 1574.3 L2320.0 1594.0 L2318.5 1613.6 L2288.1 1633.3 L2269.8 1653.0 L2279.0 1672.7 L2273.6 1692.3 L2290.2 1712.0 L2281.2 1731.7 L2271.9 1751.4 L2278.8 1771.0 L2260.0 1790.7 L2266.4 1810.4 L2277.3 1830.1 L2288.4 1849.7 L2360.6 1869.4" stroke="#4a0909"/>
<path d="M2260.1 216.7 L2327.3 236.4 L2137.2 256.1 L2181.5 275.7 L2221.2 295.4 L2218.8 315.1 L2118.6 334.8 L2282.8 354.4 L2215.4 374.1 L2218.7 393.8 L2201.2 413.4 L2238.2 433.1 L2217.1 452.8 L2244.6 472.5 L2308.0 492.1 L2252.8 511.8 L2269.6 531.5 L2256.8 551.2 L2215.5 570.9 L2206.6 590.5 L2268.1 610.2 L2235.1 629.9 L2246.2 649.5 L2233.4 669.2 L2223.7 688.9 L2275.5 708.6 L2298.3 728.2 L2272.6 747.9 L2228.7 767.6 L2241.2 787.3 L2254.0 807.0 L2233.0 826.6 L2246.0 846.3 L2253.3 866.0 L2272.8 885.7 L2230.0 905.3 L2249.8 925.0 L2235.0 944.7 L2225.1 964.3 L2252.8 984.0 L2231.3 1003.7 L2244.3 1023.4 L2252.1 1043.0 L2249.0 1062.7 L2244.7 1082.4 L2251.5 1102.1 L2243.8 1121.8 L2244.3 1141.4 L2257.4 1161.1 L2254.8 1180.8 L2260.5 1200.5 L2270.9 1220.1 L2291.4 1239.8 L2310.8 1259.5 L2305.4 1279.2 L2322.4 1298.8 L2361.8 1318.5 L2375.5 1338.2 L2330.9 1357.9 L2376.3 1377.5 L2321.8 1397.2 L2341.3 1416.9 L2303.7 1436.6 L2306.9 1456.2 L2305.1 1475.9 L2309.7 1495.6 L2324.4 1515.2 L2325.5 1534.9 L2348.8 1554.6 L2314.3 1574.3 L2288.4 1594.0 L2291.7 1613.6 L2272.7 1633.3 L2275.2 1653.0 L2267.7 1672.7 L2270.0 1692.3 L2271.9 1712.0 L2274.6 1731.7 L2279.9 1751.4 L2277.3 1771.0 L2282.9 1790.7 L2591.6 1810.4 L2556.0 1830.1 L1299.0 1849.7 L3915.3 1869.4" stroke="#550e0d"/>
<path d="M2202.9 216.7 L2304.4 236.4 L2413.8 256.1 L2354.4 275.7 L2312.8 295.4 L2316.3 315.1 L2278.5 334.8 L2200.4 354.4 L2124.7 374.1 L2263.5 393.8 L2268.0 413.4 L2332.7 433.1 L2269.0 452.8 L2145.1 472.5 L2227.0 492.1 L2282.1 511.8 L2248.0 531.5 L2267.7 551.2 L2221.1 570.9 L2225.3 590.5 L2274.7 610.2 L2273.3 629.9 L2232.7 649.5 L2229.4 669.2 L2220.3 688.9 L2236.6 708.6 L2241.8 728.2 L2256.7 747.9 L2264.2 767.6 L2274.4 787.3 L2267.3 807.0 L2244.2 826.6 L2230.5 846.3 L2246.5 866.0 L2237.2 885.7 L2243.7 905.3 L2259.2 925.0 L2264.3 944.7 L2242.5 964.3 L2249.2 984.0 L2239.9 1003.7 L2234.5 1023.4 L2257.7 1043.0 L2239.2 1062.7 L2252.1 1082.4 L2243.8 1102.1 L2243.2 1121.8 L2252.5 1141.4 L2251.1 1161.1 L2250.9 1180.8 L2258.6 1200.5 L2269.2 1220.1 L2275.3 1239.8 L2280.6 1259.5 L2284.8 1279.2 L2314.2 1298.8 L2333.6 1318.5 L2306.3 1338.2 L2334.2 1357.9 L2324.4 1377.5 L2347.1 1397.2 L2314.6 1416.9 L2312.2 1436.6 L2317.2 1456.2 L2306.1 1475.9 L2306.3 1495.6 L2333.2 1515.2 L2338.9 1534.9 L2324.9 1554.6 L2313.7 1574.3 L2307.0 1594.0 L2291.8 1613.6 L2281.8 1633.3 L2285.5 1653.0 L2280.5 1672.7 L2283.6 1692.3 L2277.3 1712.0 L2282.9 1731.7 L2314.0 1751.4 L2282.9 1771.0 L4937.0 1790.7 L24459.5 1810.4 L3026.9 1830.1 L24459.5 1849.7" stroke="#611412"/>
<path d="M2213.2 216.7 L2333.6 236.4 L2337.8 256.1 L2218.1 275.7 L2241.3 295.4 L2101.2 315.1 L2275.3 334.8 L2204.6 354.4 L2351.4 374.1 L2422.7 393.8 L2193.2 413.4 L2236.4 433.1 L2205.5 452.8 L2213.8 472.5 L2309.5 492.1 L2251.9 511.8 L2243.5 531.5 L2262.7 551.2 L2290.7 570.9 L2287.2 590.5 L2210.7 610.2 L2267.4 629.9 L2249.6 649.5 L2276.6 669.2 L2254.3 688.9 L2264.4 708.6 L2246.8 728.2 L2274.4 747.9 L2231.1 767.6 L2268.0 787.3 L2241.7 807.0 L2244.1 826.6 L2267.3 846.3 L2237.4 866.0 L2247.2 885.7 L2247.4 905.3 L2250.5 925.0 L2266.3 944.7 L2281.1 964.3 L2254.7 984.0 L2266.9 1003.7 L2247.2 1023.4 L2260.9 1043.0 L2254.6 1062.7 L2246.2 1082.4 L2260.0 1102.1 L2261.0 1121.8 L2270.9 1141.4 L2272.1 1161.1 L2266.7 1180.8 L2276.8 1200.5 L2279.4 1220.1 L2291.1 1239.8 L2309.1 1259.5 L2297.0 1279.2 L2348.2 1298.8 L2332.6 1318.5 L2314.1 1338.2 L2353.9 1357.9 L2345.9 1377.5 L2349.5 1397.2 L2330.7 1416.9 L2317.9 1436.6 L2313.7 1456.2 L2316.3 1475.9 L2318.1 1495.6 L2317.1 1515.2 L2341.2 1534.9 L2342.8 1554.6 L2315.1 1574.3 L2295.2 1594.0 L2279.0 1613.6 L2297.5 1633.3 L2274.6 1653.0 L2290.5 1672.7 L2287.6 1692.3 L2278.9 1712.0 L2267.9 1731.7 L2264.7 1751.4 L2254.1 1771.0 L2268.8 1790.7 L2258.6 1810.4 L2265.2 1830.1 L2265.0 1849.7 L2254.4 1869.4" stroke="#6d1a17"/>
<path d="M2148.7 216.7 L2477.6 236.4 L2203.8 256.1 L2339.9 275.7 L2553.8 295.4 L2418.4 315.1 L2305.7 334.8 L2270.3 354.4 L2197.3 374.1 L2222.7 393.8 L2198.8 413.4 L2195.1 433.1 L2229.4 452.8 L2217.0 472.5 L2334.2 492.1 L2270.7 511.8 L2261.8 531.5 L2255.3 551.2 L2255.2 570.9 L2308.8 590.5 L2247.7 610.2 L2267.2 629.9 L2268.8 649.5 L2287.0 669.2 L2282.8 688.9 L2251.8 708.6 L2255.1 728.2 L2254.3 747.9 L2260.2 767.6 L2266.1 787.3 L2264.7 807.0 L2277.9 826.6 L2249.7 846.3 L2256.2 866.0 L2256.1 885.7 L2280.8 905.3 L2287.9 925.0 L2269.8 944.7 L2249.6 964.3 L2254.0 984.0 L2259.8 1003.7 L2256.8 1023.4 L2259.0 1043.0 L2270.3 1062.7 L2261.6 1082.4 L2253.5 1102.1 L2262.8 1121.8 L2257.7 1141.4 L2270.8 1161.1 L2268.4 1180.8 L2272.1 1200.5 L2277.1 1220.1 L2286.7 1239.8 L2303.5 1259.5 L2315.8 1279.2 L2314.3 1298.8 L2366.3 1318.5 L2354.8 1338.2 L2377.3 1357.9 L2344.7 1377.5 L2361.3 1397.2 L2341.5 1416.9 L2322.9 1436.6 L2320.6 1456.2 L2317.4 1475.9 L2341.2 1495.6 L2348.8 1515.2 L2344.0 1534.9 L2337.9 1554.6 L2330.4 1574.3 L2300.2 1594.0 L2288.6 1613.6 L2292.6 1633.3 L2271.9 1653.0 L2288.2 1672.7 L2269.5 1692.3 L2274.2 1712.0 L2289.9 1731.7 L2286.1 1751.4 L2256.8 1771.0 L2275.1 1790.7 L2276.9 1810.4 L2278.5 1830.1 L2260.7 1849.7 L2267.5 1869.4" stroke="#791f1b"/>
<path d="M2217.7 216.7 L2147.9 236.4 L2173.5 256.1 L2103.7 275.7 L2186.7 295.4 L2327.4 315.1 L2335.6 334.8 L2206.7 354.4 L2286.0 374.1 L2253.3 393.8 L2245.2 413.4 L2164.7 433.1 L2259.4 452.8 L2195.1 472.5 L2237.9 492.1 L2333.4 511.8 L2258.4 531.5 L2291.1 551.2 L2299.3 570.9 L2244.2 590.5 L2259.5 610.2 L2258.8 629.9 L2162.9 649.5 L2269.3 669.2 L2259.2 688.9 L2274.0 708.6 L2246.9 728.2 L2258.6 747.9 L2297.6 767.6 L2243.1 787.3 L2256.5 807.0 L2271.0 826.6 L2274.9 846.3 L2269.4 866.0 L2277.4 885.7 L2263.3 905.3 L2263.4 925.0 L2261.6 944.7 L2251.9 964.3 L2256.6 984.0 L2250.4 1003.7 L2259.4 1023.4 L2248.9 1043.0 L2255.4 1062.7 L2270.7 1082.4 L2261.4 1102.1 L2257.6 1121.8 L2266.6 1141.4 L2269.6 1161.1 L2261.4 1180.8 L2277.3 1200.5 L2272.6 1220.1 L2287.5 1239.8 L2305.4 1259.5 L2298.8 1279.2 L2307.3 1298.8 L2349.5 1318.5 L2353.7 1338.2 L2334.4 1357.9 L2375.7 1377.5 L2371.4 1397.2 L2364.4 1416.9 L2322.8 1436.6 L2334.2 1456.2 L2329.6 1475.9 L2339.4 1495.6 L2326.5 1515.2 L2330.0 1534.9 L2334.8 1554.6 L2327.0 1574.3 L2303.3 1594.0 L2313.8 1613.6 L2278.2 1633.3 L2282.9 1653.0 L2285.9 1672.7 L2279.3 1692.3 L2275.1 1712.0 L2260.2 1731.7 L2282.8 1751.4 L2259.0 1771.0 L2272.1 1790.7 L2268.5 1810.4 L2264.3 1830.1 L2271.7 1849.7 L2269.1 1869.4" stroke="#842520"/>
<path d="M2200.2 216.7 L2098.2 236.4 L2257.6 256.1 L2339.0 275.7 L2206.5 295.4 L2301.3 315.1 L2421.7 334.8 L2314.6 354.4 L2340.9 374.1 L2251.0 393.8 L2215.5 413.4 L2274.1 433.1 L2274.1 452.8 L2284.9 472.5 L2226.9 492.1 L2299.9 511.8 L2292.6 531.5 L2288.8 551.2 L2296.3 570.9 L2268.6 590.5 L2244.1 610.2 L2244.1 629.9 L2259.8 649.5 L2284.1 669.2 L2257.3 688.9 L2252.3 708.6 L2234.1 728.2 L2224.1 747.9 L2239.7 767.6 L2248.0 787.3 L2298.7 807.0 L2266.2 826.6 L2225.9 846.3 L2274.7 866.0 L2249.0 885.7 L2246.7 905.3 L2257.1 925.0 L2254.6 944.7 L2258.6 964.3 L2265.4 984.0 L2258.8 1003.7 L2242.0 1023.4 L2253.6 1043.0 L2251.5 1062.7 L2248.2 1082.4 L2256.8 1102.1 L2243.0 1121.8 L2248.4 1141.4 L2254.9 1161.1 L2251.3 1180.8 L2268.0 1200.5 L2268.1 1220.1 L2297.2 1239.8 L2286.4 1259.5 L2309.7 1279.2 L2316.0 1298.8 L2305.6 1318.5 L2327.6 1338.2 L2333.3 1357.9 L2350.0 1377.5 L2341.2 1397.2 L2326.7 1416.9 L2343.8 1436.6 L2323.9 1456.2 L2347.6 1475.9 L2331.1 1495.6 L2338.6 1515.2 L2349.8 1534.9 L2353.2 1554.6 L2329.5 1574.3 L2328.4 1594.0 L2338.4 1613.6 L2360.6 1633.3 L2343.9 1653.0 L2305.1 1672.7 L2286.8 1692.3 L2296.0 1712.0 L2293.1 1731.7 L2283.1 1751.4 L2273.4 1771.0 L2271.5 1790.7 L2280.6 1810.4 L2278.0 1830.1 L2274.4 1849.7 L2267.6 1869.4" stroke="#902b25"/>
<path d="M2432.3 216.7 L2328.7 236.4 L2481.1 256.1 L2278.3 275.7 L2331.3 295.4 L2275.5 315.1 L2300.1 334.8 L2139.6 354.4 L2277.0 374.1 L2374.6 393.8 L2203.5 413.4 L2308.4 433.1 L2202.6 452.8 L2293.6 472.5 L2243.0 492.1 L2200.2 511.8 L2305.1 531.5 L2348.4 551.2 L2338.4 570.9 L2271.8 590.5 L2309.8 610.2 L2261.3 629.9 L2254.3 649.5 L2255.1 669.2 L2263.0 688.9 L2269.7 708.6 L2253.5 728.2 L2255.8 747.9 L2223.0 767.6 L2264.8 787.3 L2238.1 807.0 L2244.3 826.6 L2244.1 846.3 L2259.2 866.0 L2258.7 885.7 L2233.0 905.3 L2284.2 925.0 L2239.0 944.7 L2255.8 964.3 L2254.7 984.0 L2239.3 1003.7 L2263.2 1023.4 L2253.4 1043.0 L2251.2 1062.7 L2261.6 1082.4 L2240.2 1102.1 L2256.7 1121.8 L2258.9 1141.4 L2258.4 1161.1 L2266.6 1180.8 L2266.0 1200.5 L2258.7 1220.1 L2279.5 1239.8 L2277.4 1259.5 L2282.6 1279.2 L2310.2 1298.8 L2328.9 1318.5 L2356.8 1338.2 L2344.5 1357.9 L2371.4 1377.5 L2341.7 1397.2 L2345.1 1416.9 L2332.5 1436.6 L2329.4 1456.2 L2317.5 1475.9 L2324.4 1495.6 L2345.9 1515.2 L2338.5 1534.9 L2359.5 1554.6 L2327.7 1574.3 L2310.0 1594.0 L2301.9 1613.6 L2290.2 1633.3 L2282.3 1653.0 L2294.0 1672.7 L2305.1 1692.3 L2320.6 1712.0 L2704.9 1731.7 L2801.5 1751.4 L2365.0 1771.0 L2369.5 1790.7M2263.1 1830.1 L2282.3 1849.7 L2266.0 1869.4" stroke="#9c3029"/>
<path d="M2449.4 216.7 L2538.3 236.4 L2620.5 256.1 L2471.7 275.7 L2158.5 295.4 L2115.4 315.1 L2210.1 334.8 L2148.0 354.4 L2383.2 374.1 L2204.0 393.8 L2213.5 413.4 L2272.4 433.1 L2249.0 452.8 L2178.3 472.5 L2323.0 492.1 L2157.4 511.8 L2218.8 531.5 L2266.5 551.2 L2280.3 570.9 L2258.3 590.5 L2230.0 610.2 L2236.3 629.9 L2228.4 649.5 L2271.7 669.2 L2256.9 688.9 L2243.0 708.6 L2247.6 728.2 L2255.7 747.9 L2248.4 767.6 L2299.4 787.3 L2272.6 807.0 L2247.8 826.6 L2252.2 846.3 L2253.5 866.0 L2245.6 885.7 L2245.6 905.3 L2233.1 925.0 L2265.6 944.7 L2254.0 964.3 L2257.2 984.0 L2246.9 1003.7 L2250.2 1023.4 L2274.7 1043.0 L2253.0 1062.7 L2260.2 1082.4 L2262.6 1102.1 L2257.4 1121.8 L2253.7 1141.4 L2258.2 1161.1 L2268.5 1180.8 L2261.8 1200.5 L2276.5 1220.1 L2276.3 1239.8 L2289.4 1259.5 L2288.5 1279.2 L2290.7 1298.8 L2344.4 1318.5 L2319.7 1338.2 L2350.2 1357.9 L2361.3 1377.5 L2356.0 1397.2 L2323.7 1416.9 L2344.1 1436.6 L2341.4 1456.2 L2363.9 1475.9 L2340.0 1495.6 L2350.8 1515.2 L2336.3 1534.9 L2349.9 1554.6 L2325.1 1574.3 L2252.9 1594.0 L2275.1 1613.6 L2312.5 1633.3 L2296.5 1653.0 L2291.4 1672.7 L2271.3 1692.3 L2275.5 1712.0 L2284.9 1731.7 L2260.0 1751.4 L2271.8 1771.0 L2277.3 1790.7 L2453.9 1810.4M2268.8 1849.7 L2267.9 1869.4" stroke="#a8362e"/>
<path d="M2188.1 216.7 L2096.1 236.4 L2200.2 256.1 L2272.6 275.7 L2359.1 295.4 L2257.3 315.1 L2134.3 334.8 L2323.6 354.4 L2116.6 374.1 L2253.3 393.8 L2265.3 413.4 L2184.8 433.1 L2154.3 452.8 L2317.6 472.5 L2259.5 492.1 L2268.9 511.8 L2244.0 531.5 L2287.2 551.2 L2286.9 570.9 L2271.4 590.5 L2233.5 610.2 L2211.9 629.9 L2243.3 649.5 L2272.3 669.2 L2249.6 688.9 L2254.6 708.6 L2223.8 728.2 L2267.9 747.9 L2262.9 767.6 L2273.6 787.3 L2271.9 807.0 L2251.6 826.6 L2249.3 846.3 L2234.4 866.0 L2277.1 885.7 L2254.6 905.3 L2263.9 925.0 L2259.8 944.7 L2261.1 964.3 L2244.3 984.0 L2238.6 1003.7 L2247.9 1023.4 L2240.6 1043.0 L2248.5 1062.7 L2245.7 1082.4 L2243.8 1102.1 L2244.4 1121.8 L2235.3 1141.4 L2252.4 1161.1 L2251.3 1180.8 L2255.4 1200.5 L2254.3 1220.1 L2271.8 1239.8 L2269.6 1259.5 L2282.7 1279.2 L2290.5 1298.8 L2301.8 1318.5 L2297.4 1338.2 L2303.8 1357.9 L2333.1 1377.5 L2335.7 1397.2 L2324.4 1416.9 L2306.0 1436.6 L2318.1 1456.2 L2318.6 1475.9 L2320.0 1495.6 L2325.5 1515.2 L2334.3 1534.9 L2329.9 1554.6 L2322.0 1574.3 L2289.3 1594.0 L2292.4 1613.6 L2280.9 1633.3 L2287.5 1653.0 L2277.1 1672.7 L2284.5 1692.3 L2274.7 1712.0 L2268.4 1731.7 L2270.5 1751.4 L2266.1 1771.0 L2270.9 1790.7 L2262.8 1810.4 L2259.2 1830.1 L2262.2 1849.7 L2277.2 1869.4" stroke="#b33c33"/>
<path d="M2336.9 216.7 L2164.2 236.4 L2209.1 256.1 L2130.2 275.7 L2411.7 295.4 L2235.5 315.1 L2248.1 334.8 L2279.8 354.4 L2213.8 374.1 L2238.6 393.8 L2259.7 413.4 L2238.0 433.1 L2312.5 452.8 L2339.4 472.5 L2243.5 492.1 L2304.7 511.8 L2257.8 531.5 L2258.9 551.2 L2268.0 570.9 L2255.4 590.5 L2206.1 610.2 L2269.9 629.9 L2235.0 649.5 L2219.9 669.2 L2232.4 688.9 L2239.4 708.6 L2227.6 728.2 L2261.5 747.9 L2236.5 767.6 L2216.6 787.3 L2234.3 807.0 L2252.5 826.6 L2241.2 846.3 L2246.5 866.0 L2265.5 885.7 L2261.0 905.3 L2241.3 925.0 L2238.6 944.7 L2254.8 964.3 L2257.1 984.0 L2242.8 1003.7 L2256.3 1023.4 L2247.2 1043.0 L2261.7 1062.7 L2268.8 1082.4 L2268.3 1102.1 L2257.5 1121.8 L2261.1 1141.4 L2260.2 1161.1 L2270.2 1180.8 L2274.8 1200.5 L2281.1 1220.1 L2291.6 1239.8 L2288.4 1259.5 L2294.8 1279.2 L2302.7 1298.8 L2328.7 1318.5 L2319.8 1338.2 L2382.2 1357.9 L2365.4 1377.5 L2309.9 1397.2 L2344.1 1416.9 L2349.9 1436.6 L2373.7 1456.2 L2364.7 1475.9 L2353.7 1495.6 L2344.2 1515.2 L2344.0 1534.9 L2344.8 1554.6 L2354.3 1574.3 L2339.1 1594.0 L2307.6 1613.6 L2287.1 1633.3 L2305.5 1653.0 L2286.6 1672.7 L2272.1 1692.3 L2280.4 1712.0 L2267.2 1731.7 L2281.9 1751.4 L2262.0 1771.0 L2276.7 1790.7 L2268.2 1810.4 L2278.6 1830.1 L2265.6 1849.7 L2272.2 1869.4" stroke="#bf4137"/>
<path d="M2277.2 216.7 L2089.2 236.4 L2221.7 256.1 L2633.8 275.7 L2253.2 295.4 L2235.5 315.1 L2182.9 334.8 L2334.0 354.4 L2090.5 374.1 L2259.3 393.8 L2356.8 413.4 L2290.4 433.1 L2233.3 452.8 L2234.2 472.5 L2299.2 492.1 L2308.7 511.8 L2254.8 531.5 L2311.3 551.2 L2242.3 570.9 L2259.4 590.5 L2253.1 610.2 L2298.9 629.9 L2283.3 649.5 L2261.7 669.2 L2261.8 688.9 L2237.9 708.6 L2218.6 728.2 L2264.2 747.9 L2290.0 767.6 L2246.2 787.3 L2236.4 807.0 L2274.2 826.6 L2267.6 846.3 L2263.2 866.0 L2240.8 885.7 L2269.9 905.3 L2265.2 925.0 L2265.5 944.7 L2256.1 964.3 L2244.7 984.0 L2258.9 1003.7 L2245.7 1023.4 L2251.8 1043.0 L2251.8 1062.7 L2250.2 1082.4 L2249.8 1102.1 L2262.4 1121.8 L2249.9 1141.4 L2251.4 1161.1 L2246.3 1180.8 L2253.2 1200.5 L2262.7 1220.1 L2264.9 1239.8 L2266.6 1259.5 L2267.9 1279.2 L2273.7 1298.8 L2282.6 1318.5 L2311.6 1338.2 L2284.5 1357.9 L2307.7 1377.5 L2349.4 1397.2 L2329.2 1416.9 L2330.0 1436.6 L2340.6 1456.2 L2344.4 1475.9 L2328.3 1495.6 L2339.1 1515.2 L2342.5 1534.9 L2332.1 1554.6 L2327.9 1574.3 L2312.9 1594.0 L2289.4 1613.6 L2300.0 1633.3 L2297.1 1653.0 L2272.3 1672.7 L2285.0 1692.3 L2286.1 1712.0 L2299.0 1731.7 L2273.0 1751.4 L2262.0 1771.0 L2277.2 1790.7 L2268.5 1810.4 L2275.1 1830.1 L2269.5 1849.7 L2276.4 1869.4" stroke="#cb473c"/>
<path d="M2364.4 216.7 L2352.3 236.4 L2349.9 256.1 L2237.8 275.7 L2479.4 295.4 L2336.4 315.1 L2182.4 334.8 L2249.9 354.4 L2255.3 374.1 L2169.7 393.8 L2314.7 413.4 L2331.5 433.1 L2314.7 452.8 L2215.8 472.5 L2385.0 492.1 L2280.0 511.8 L2223.6 531.5 L2250.6 551.2 L2224.3 570.9 L2281.7 590.5 L2239.3 610.2 L2212.6 629.9 L2220.9 649.5 L2248.9 669.2 L2253.9 688.9 L2239.2 708.6 L2259.1 728.2 L2273.7 747.9 L2256.5 767.6 L2277.0 787.3 L2230.2 807.0 L2264.1 826.6 L2245.1 846.3 L2255.2 866.0 L2262.7 885.7 L2261.0 905.3 L2259.5 925.0 L2244.9 944.7 L2254.0 964.3 L2262.9 984.0 L2245.9 1003.7 L2267.2 1023.4 L2260.5 1043.0 L2256.5 1062.7 L2253.6 1082.4 L2255.0 1102.1 L2262.1 1121.8 L2259.9 1141.4 L2258.0 1161.1 L2265.2 1180.8 L2257.4 1200.5 L2270.8 1220.1 L2257.9 1239.8 L2259.6 1259.5 L2272.2 1279.2 L2276.0 1298.8 L2288.7 1318.5 L2290.5 1338.2 L2303.4 1357.9 L2350.6 1377.5 L2323.0 1397.2 L2339.3 1416.9 L2335.4 1436.6 L2345.6 1456.2 L2334.0 1475.9 L2342.2 1495.6 L2330.5 1515.2 L2330.2 1534.9 L2334.9 1554.6 L2309.1 1574.3 L2293.1 1594.0 L2278.8 1613.6 L2300.8 1633.3 L2280.4 1653.0 L2281.1 1672.7 L2279.5 1692.3 L2266.3 1712.0 L2277.3 1731.7 L2270.9 1751.4 L2278.1 1771.0 L2284.4 1790.7 L2280.0 1810.4 L2268.2 1830.1 L2282.7 1849.7 L2255.6 1869.4" stroke="#d74d41"/>
<path d="M2277.4 216.7 L2152.9 236.4 L2582.7 256.1 L2270.6 275.7 L2176.5 295.4 L2225.2 315.1 L2259.6 334.8 L2351.0 354.4 L2216.5 374.1 L2439.4 393.8 L2193.0 413.4 L2252.2 433.1 L2304.4 452.8 L2205.4 472.5 L2278.8 492.1 L2208.6 511.8 L2239.4 531.5 L2246.4 551.2 L2264.5 570.9 L2272.8 590.5 L2263.6 610.2 L2149.6 629.9 L2232.4 649.5 L2271.7 669.2 L2250.4 688.9 L2287.0 708.6 L2274.2 728.2 L2260.3 747.9 L2298.3 767.6 L2267.2 787.3 L2266.2 807.0 L2268.6 826.6 L2262.2 846.3 L2254.2 866.0 L2242.3 885.7 L2280.6 905.3 L2244.8 925.0 L2265.5 944.7 L2277.9 964.3 L2250.1 984.0 L2249.9 1003.7 L2251.5 1023.4 L2261.9 1043.0 L2267.4 1062.7 L2258.4 1082.4 L2261.9 1102.1 L2276.8 1121.8 L2261.8 1141.4 L2260.8 1161.1 L2264.3 1180.8 L2256.1 1200.5 L2272.8 1220.1 L2271.8 1239.8 L2273.6 1259.5 L2273.9 1279.2 L2278.5 1298.8 L2286.4 1318.5 L2329.5 1338.2 L2344.2 1357.9 L2301.1 1377.5 L2334.0 1397.2 L2343.3 1416.9 L2345.0 1436.6 L2350.8 1456.2 L2353.6 1475.9 L2348.6 1495.6 L2347.0 1515.2 L2334.7 1534.9 L2326.6 1554.6 L2311.0 1574.3 L2315.2 1594.0 L2290.2 1613.6 L2289.6 1633.3 L2270.3 1653.0 L2294.0 1672.7 L2299.5 1692.3 L2316.2 1704.1 L3135.7 1728.9M2265.2 1771.0 L2266.7 1790.7 L2269.1 1810.4 L2262.0 1830.1 L2272.1 1849.7 L2276.4 1869.4" stroke="#e25245"/>
<path d="M2148.5 216.7 L2279.8 236.4 L2116.7 256.1 L2087.9 275.7 L2205.8 295.4 L2173.8 315.1 L2315.2 334.8 L2266.4 354.4 L2307.8 374.1 L2469.9 393.8 L2281.8 413.4 L2468.3 433.1 L2663.8 452.8 L2110.7 472.5 L2323.1 492.1 L2275.1 511.8 L2280.7 531.5 L2282.3 551.2 L2236.8 570.9 L2261.5 590.5 L2288.1 610.2 L2279.9 629.9 L2236.0 649.5 L2250.9 669.2 L2229.6 688.9 L2256.7 708.6 L2256.5 728.2 L2282.0 747.9 L2276.1 767.6 L2241.0 787.3 L2261.7 807.0 L2248.7 826.6 L2236.2 846.3 L2296.0 866.0 L2247.7 885.7 L2324.0 905.3 L2252.0 925.0 L2252.0 944.7 L2265.6 964.3 L2251.1 984.0 L2260.3 1003.7 L2259.4 1023.4 L2260.5 1043.0 L2250.5 1062.7 L2254.6 1082.4 L2248.2 1102.1 L2248.2 1121.8 L2251.0 1141.4 L2249.3 1161.1 L2255.1 1180.8 L2256.3 1200.5 L2236.5 1220.1 L2256.1 1239.8 L2252.7 1259.5 L2273.8 1279.2 L2281.0 1298.8 L2297.9 1318.5 L2315.0 1338.2 L2317.5 1357.9 L2310.3 1377.5 L2347.4 1397.2 L2334.2 1416.9 L2349.4 1436.6 L2331.3 1456.2 L2339.7 1475.9 L2340.2 1495.6 L2336.7 1515.2 L2344.2 1534.9 L2344.6 1554.6 L2331.9 1574.3 L2293.4 1594.0 L2281.4 1613.6 L2277.4 1633.3 L2259.5 1653.0 L2282.2 1672.7 L2268.9 1692.3 L2265.7 1712.0 L2254.4 1731.7 L2276.8 1751.4 L2277.3 1771.0 L2271.8 1790.7 L3018.0 1810.4 L2589.4 1830.1 L1909.7 1849.7 L4426.1 1869.4" stroke="#ee584a"/>
</g>
<rect x="672.50" y="216.70" width="1222.10" height="1651.90" fill="none" stroke="#fff" stroke-width="5.6"/>
<line x1="660.20" x2="670.20" y1="1790.70" y2="1790.70" stroke="#fff" stroke-width="3"/>
<text transform="translate(596.82 1808.00) scale(0.9650 1)" font-size="47.14" fill="#fff" font-family='"Liberation Sans", sans-serif'  stroke="#fff" stroke-width="0.94" stroke-linejoin="round">10</text>
<line x1="660.20" x2="670.20" y1="1593.95" y2="1593.95" stroke="#fff" stroke-width="3"/>
<text transform="translate(597.06 1611.25) scale(0.9649 1)" font-size="47.14" fill="#fff" font-family='"Liberation Sans", sans-serif'  stroke="#fff" stroke-width="0.94" stroke-linejoin="round">15</text>
<line x1="660.20" x2="670.20" y1="1397.20" y2="1397.20" stroke="#fff" stroke-width="3"/>
<text transform="translate(596.80 1414.50) scale(0.9655 1)" font-size="47.14" fill="#fff" font-family='"Liberation Sans", sans-serif'  stroke="#fff" stroke-width="0.94" stroke-linejoin="round">20</text>
<line x1="660.20" x2="670.20" y1="1200.45" y2="1200.45" stroke="#fff" stroke-width="3"/>
<text transform="translate(597.03 1217.75) scale(0.9654 1)" font-size="47.14" fill="#fff" font-family='"Liberation Sans", sans-serif'  stroke="#fff" stroke-width="0.94" stroke-linejoin="round">25</text>
<line x1="660.20" x2="670.20" y1="1003.70" y2="1003.70" stroke="#fff" stroke-width="3"/>
<text transform="translate(596.79 1021.00) scale(0.9657 1)" font-size="47.14" fill="#fff" font-family='"Liberation Sans", sans-serif'  stroke="#fff" stroke-width="0.94" stroke-linejoin="round">30</text>
<line x1="660.20" x2="670.20" y1="806.95" y2="806.95" stroke="#fff" stroke-width="3"/>
<text transform="translate(597.02 824.25) scale(0.9656 1)" font-size="47.14" fill="#fff" font-family='"Liberation Sans", sans-serif'  stroke="#fff" stroke-width="0.94" stroke-linejoin="round">35</text>
<line x1="660.20" x2="670.20" y1="610.20" y2="610.20" stroke="#fff" stroke-width="3"/>
<text transform="translate(596.77 627.50) scale(0.9660 1)" font-size="47.14" fill="#fff" font-family='"Liberation Sans", sans-serif'  stroke="#fff" stroke-width="0.94" stroke-linejoin="round">40</text>
<line x1="660.20" x2="670.20" y1="413.45" y2="413.45" stroke="#fff" stroke-width="3"/>
<text transform="translate(597.00 430.75) scale(0.9660 1)" font-size="47.14" fill="#fff" font-family='"Liberation Sans", sans-serif'  stroke="#fff" stroke-width="0.94" stroke-linejoin="round">45</text>
<line x1="660.20" x2="670.20" y1="216.70" y2="216.70" stroke="#fff" stroke-width="3"/>
<text transform="translate(596.79 234.00) scale(0.9657 1)" font-size="47.14" fill="#fff" font-family='"Liberation Sans", sans-serif'  stroke="#fff" stroke-width="0.94" stroke-linejoin="round">50</text>
<line x1="783.55" x2="783.55" y1="1870.90" y2="1880.90" stroke="#fff" stroke-width="3"/>
<text transform="translate(771.10 1927.20) scale(0.9433 1)" font-size="47.14" fill="#fff" font-family='"Liberation Sans", sans-serif'  stroke="#fff" stroke-width="0.94" stroke-linejoin="round">0</text>
<line x1="1005.65" x2="1005.65" y1="1870.90" y2="1880.90" stroke="#fff" stroke-width="3"/>
<text transform="translate(980.05 1927.20) scale(0.9655 1)" font-size="47.14" fill="#fff" font-family='"Liberation Sans", sans-serif'  stroke="#fff" stroke-width="0.94" stroke-linejoin="round">20</text>
<line x1="1227.75" x2="1227.75" y1="1870.90" y2="1880.90" stroke="#fff" stroke-width="3"/>
<text transform="translate(1202.82 1927.20) scale(0.9660 1)" font-size="47.14" fill="#fff" font-family='"Liberation Sans", sans-serif'  stroke="#fff" stroke-width="0.94" stroke-linejoin="round">40</text>
<line x1="1449.85" x2="1449.85" y1="1870.90" y2="1880.90" stroke="#fff" stroke-width="3"/>
<text transform="translate(1424.25 1927.20) scale(0.9655 1)" font-size="47.14" fill="#fff" font-family='"Liberation Sans", sans-serif'  stroke="#fff" stroke-width="0.94" stroke-linejoin="round">60</text>
<line x1="1671.95" x2="1671.95" y1="1870.90" y2="1880.90" stroke="#fff" stroke-width="3"/>
<text transform="translate(1646.46 1927.20) scale(0.9656 1)" font-size="47.14" fill="#fff" font-family='"Liberation Sans", sans-serif'  stroke="#fff" stroke-width="0.94" stroke-linejoin="round">80</text>
<line x1="1894.05" x2="1894.05" y1="1870.90" y2="1880.90" stroke="#fff" stroke-width="3"/>
<text transform="translate(1854.98 1927.20) scale(0.9721 1)" font-size="47.14" fill="#fff" font-family='"Liberation Sans", sans-serif'  stroke="#fff" stroke-width="0.94" stroke-linejoin="round">100</text>
<text transform="translate(732.96 2001.70) scale(1.0901 1)" font-size="60.58" fill="#fff" font-family='"Liberation Sans", sans-serif'  stroke="#fff" stroke-width="1.21" stroke-linejoin="round">Aerosol-To-Molecular Extinction Ratio</text>
<text transform="translate(558.00 1042.65) rotate(-90) translate(-189.39 0.00) scale(1.1515 1)" font-size="60.58" fill="#fff" font-family='"Liberation Sans", sans-serif'  stroke="#fff" stroke-width="1.21" stroke-linejoin="round">Altitude [km]</text>
<rect x="2138.50" y="216.70" width="1222.10" height="1651.90" fill="none" stroke="#fff" stroke-width="5.6"/>
<line x1="2126.20" x2="2136.20" y1="1790.70" y2="1790.70" stroke="#fff" stroke-width="3"/>
<text transform="translate(2062.82 1808.00) scale(0.9650 1)" font-size="47.14" fill="#fff" font-family='"Liberation Sans", sans-serif'  stroke="#fff" stroke-width="0.94" stroke-linejoin="round">10</text>
<line x1="2126.20" x2="2136.20" y1="1593.95" y2="1593.95" stroke="#fff" stroke-width="3"/>
<text transform="translate(2063.06 1611.25) scale(0.9649 1)" font-size="47.14" fill="#fff" font-family='"Liberation Sans", sans-serif'  stroke="#fff" stroke-width="0.94" stroke-linejoin="round">15</text>
<line x1="2126.20" x2="2136.20" y1="1397.20" y2="1397.20" stroke="#fff" stroke-width="3"/>
<text transform="translate(2062.80 1414.50) scale(0.9655 1)" font-size="47.14" fill="#fff" font-family='"Liberation Sans", sans-serif'  stroke="#fff" stroke-width="0.94" stroke-linejoin="round">20</text>
<line x1="2126.20" x2="2136.20" y1="1200.45" y2="1200.45" stroke="#fff" stroke-width="3"/>
<text transform="translate(2063.03 1217.75) scale(0.9654 1)" font-size="47.14" fill="#fff" font-family='"Liberation Sans", sans-serif'  stroke="#fff" stroke-width="0.94" stroke-linejoin="round">25</text>
<line x1="2126.20" x2="2136.20" y1="1003.70" y2="1003.70" stroke="#fff" stroke-width="3"/>
<text transform="translate(2062.79 1021.00) scale(0.9657 1)" font-size="47.14" fill="#fff" font-family='"Liberation Sans", sans-serif'  stroke="#fff" stroke-width="0.94" stroke-linejoin="round">30</text>
<line x1="2126.20" x2="2136.20" y1="806.95" y2="806.95" stroke="#fff" stroke-width="3"/>
<text transform="translate(2063.02 824.25) scale(0.9656 1)" font-size="47.14" fill="#fff" font-family='"Liberation Sans", sans-serif'  stroke="#fff" stroke-width="0.94" stroke-linejoin="round">35</text>
<line x1="2126.20" x2="2136.20" y1="610.20" y2="610.20" stroke="#fff" stroke-width="3"/>
<text transform="translate(2062.77 627.50) scale(0.9660 1)" font-size="47.14" fill="#fff" font-family='"Liberation Sans", sans-serif'  stroke="#fff" stroke-width="0.94" stroke-linejoin="round">40</text>
<line x1="2126.20" x2="2136.20" y1="413.45" y2="413.45" stroke="#fff" stroke-width="3"/>
<text transform="translate(2063.00 430.75) scale(0.9660 1)" font-size="47.14" fill="#fff" font-family='"Liberation Sans", sans-serif'  stroke="#fff" stroke-width="0.94" stroke-linejoin="round">45</text>
<line x1="2126.20" x2="2136.20" y1="216.70" y2="216.70" stroke="#fff" stroke-width="3"/>
<text transform="translate(2062.79 234.00) scale(0.9657 1)" font-size="47.14" fill="#fff" font-family='"Liberation Sans", sans-serif'  stroke="#fff" stroke-width="0.94" stroke-linejoin="round">50</text>
<line x1="2249.55" x2="2249.55" y1="1870.90" y2="1880.90" stroke="#fff" stroke-width="3"/>
<text transform="translate(2237.10 1927.20) scale(0.9433 1)" font-size="47.14" fill="#fff" font-family='"Liberation Sans", sans-serif'  stroke="#fff" stroke-width="0.94" stroke-linejoin="round">0</text>
<line x1="2471.65" x2="2471.65" y1="1870.90" y2="1880.90" stroke="#fff" stroke-width="3"/>
<text transform="translate(2446.05 1927.20) scale(0.9655 1)" font-size="47.14" fill="#fff" font-family='"Liberation Sans", sans-serif'  stroke="#fff" stroke-width="0.94" stroke-linejoin="round">20</text>
<line x1="2693.75" x2="2693.75" y1="1870.90" y2="1880.90" stroke="#fff" stroke-width="3"/>
<text transform="translate(2668.82 1927.20) scale(0.9660 1)" font-size="47.14" fill="#fff" font-family='"Liberation Sans", sans-serif'  stroke="#fff" stroke-width="0.94" stroke-linejoin="round">40</text>
<line x1="2915.85" x2="2915.85" y1="1870.90" y2="1880.90" stroke="#fff" stroke-width="3"/>
<text transform="translate(2890.25 1927.20) scale(0.9655 1)" font-size="47.14" fill="#fff" font-family='"Liberation Sans", sans-serif'  stroke="#fff" stroke-width="0.94" stroke-linejoin="round">60</text>
<line x1="3137.95" x2="3137.95" y1="1870.90" y2="1880.90" stroke="#fff" stroke-width="3"/>
<text transform="translate(3112.46 1927.20) scale(0.9656 1)" font-size="47.14" fill="#fff" font-family='"Liberation Sans", sans-serif'  stroke="#fff" stroke-width="0.94" stroke-linejoin="round">80</text>
<line x1="3360.05" x2="3360.05" y1="1870.90" y2="1880.90" stroke="#fff" stroke-width="3"/>
<text transform="translate(3320.98 1927.20) scale(0.9721 1)" font-size="47.14" fill="#fff" font-family='"Liberation Sans", sans-serif'  stroke="#fff" stroke-width="0.94" stroke-linejoin="round">100</text>
<text transform="translate(2198.96 2001.70) scale(1.0901 1)" font-size="60.58" fill="#fff" font-family='"Liberation Sans", sans-serif'  stroke="#fff" stroke-width="1.21" stroke-linejoin="round">Aerosol-To-Molecular Extinction Ratio</text>
<text transform="translate(2024.00 1042.65) rotate(-90) translate(-189.39 0.00) scale(1.1515 1)" font-size="60.58" fill="#fff" font-family='"Liberation Sans", sans-serif'  stroke="#fff" stroke-width="1.21" stroke-linejoin="round">Altitude [km]</text>
<text transform="translate(772.28 101.70) scale(0.9542 1)" font-size="80.29" font-weight="bold" fill="#fff" font-family='"Liberation Sans", sans-serif'  stroke="#fff" stroke-width="1.77" stroke-linejoin="round">SAGE</text>
<text transform="translate(1018.63 101.70) scale(0.8234 1)" font-size="84.07" font-weight="bold" fill="#fff" font-family='"Liberation Mono", monospace'  stroke="#fff" stroke-width="1.85" stroke-linejoin="round">I</text>
<text transform="translate(1062.93 101.70) scale(0.8234 1)" font-size="84.07" font-weight="bold" fill="#fff" font-family='"Liberation Mono", monospace'  stroke="#fff" stroke-width="1.85" stroke-linejoin="round">I</text>
<text transform="translate(1107.23 101.70) scale(0.8234 1)" font-size="84.07" font-weight="bold" fill="#fff" font-family='"Liberation Mono", monospace'  stroke="#fff" stroke-width="1.85" stroke-linejoin="round">I</text>
<text transform="translate(1197.93 101.70) scale(0.8234 1)" font-size="84.07" font-weight="bold" fill="#fff" font-family='"Liberation Mono", monospace'  stroke="#fff" stroke-width="1.85" stroke-linejoin="round">I</text>
<text transform="translate(1151.86 110.70) skewX(-13.17)" font-size="97.95" font-weight="bold" fill="#fff" font-family='"Liberation Sans", sans-serif'  stroke="#fff" stroke-width="2.15" stroke-linejoin="round">/</text>
<text transform="translate(1239.24 101.70) scale(0.9741 1)" font-size="80.29" font-weight="bold" fill="#fff" font-family='"Liberation Sans", sans-serif'  stroke="#fff" stroke-width="1.77" stroke-linejoin="round">SS</text>
<text transform="translate(1369.34 101.70) scale(1.0881 1)" font-size="80.29" font-weight="bold" fill="#fff" font-family='"Liberation Sans", sans-serif'  stroke="#fff" stroke-width="1.77" stroke-linejoin="round">1544nm</text>
<text transform="translate(1720.23 101.70) scale(1.0745 1)" font-size="80.29" font-weight="bold" fill="#fff" font-family='"Liberation Sans", sans-serif'  stroke="#fff" stroke-width="1.77" stroke-linejoin="round">Aerosol-to-Molecular</text>
<text transform="translate(2616.49 101.70) scale(1.0340 1)" font-size="80.29" font-weight="bold" fill="#fff" font-family='"Liberation Sans", sans-serif'  stroke="#fff" stroke-width="1.77" stroke-linejoin="round">Extinction</text>
<text transform="translate(3046.37 101.70) scale(1.0569 1)" font-size="80.29" font-weight="bold" fill="#fff" font-family='"Liberation Sans", sans-serif'  stroke="#fff" stroke-width="1.77" stroke-linejoin="round">Ratio</text>
<text transform="translate(1754.92 195.70) scale(1.1784 1)" font-size="72.03" font-weight="bold" fill="#fff" font-family='"Liberation Sans", sans-serif'  stroke="#fff" stroke-width="1.58" stroke-linejoin="round">22 April 2025</text>
<text transform="translate(1158.50 195.70) scale(1.0116 1)" font-size="67.39" font-weight="bold" fill="#fff" font-family='"Liberation Sans", sans-serif'  stroke="#fff" stroke-width="1.48" stroke-linejoin="round">Sunrise</text>
<text transform="translate(2637.15 195.70) scale(0.9838 1)" font-size="67.39" font-weight="bold" fill="#fff" font-family='"Liberation Sans", sans-serif'  stroke="#fff" stroke-width="1.48" stroke-linejoin="round">Sunset</text>
<rect x="7.60" y="759.30" width="430.70" height="897.00" rx="7" ry="7" fill="#000" stroke="#a6a6a6" stroke-width="3"/>
<line x1="18.00" x2="108.00" y1="790.90" y2="790.90" stroke="#043c64" stroke-width="10"/>
<text transform="translate(136.18 804.70) scale(1.0078 1)" font-size="40.00" fill="#fff" font-family='"Liberation Sans", sans-serif'  stroke="#fff" stroke-width="0.80" stroke-linejoin="round">2025042202SR</text>
<line x1="18.00" x2="108.00" y1="849.90" y2="849.90" stroke="#04426c" stroke-width="10"/>
<text transform="translate(136.18 863.70) scale(1.0078 1)" font-size="40.00" fill="#fff" font-family='"Liberation Sans", sans-serif'  stroke="#fff" stroke-width="0.80" stroke-linejoin="round">2025042205SR</text>
<line x1="18.00" x2="108.00" y1="908.90" y2="908.90" stroke="#044874" stroke-width="10"/>
<text transform="translate(136.18 922.70) scale(1.0078 1)" font-size="40.00" fill="#fff" font-family='"Liberation Sans", sans-serif'  stroke="#fff" stroke-width="0.80" stroke-linejoin="round">2025042208SR</text>
<line x1="18.00" x2="108.00" y1="967.90" y2="967.90" stroke="#044e7c" stroke-width="10"/>
<text transform="translate(136.18 981.70) scale(1.0078 1)" font-size="40.00" fill="#fff" font-family='"Liberation Sans", sans-serif'  stroke="#fff" stroke-width="0.80" stroke-linejoin="round">2025042211SR</text>
<line x1="18.00" x2="108.00" y1="1026.90" y2="1026.90" stroke="#045585" stroke-width="10"/>
<text transform="translate(136.18 1040.70) scale(1.0078 1)" font-size="40.00" fill="#fff" font-family='"Liberation Sans", sans-serif'  stroke="#fff" stroke-width="0.80" stroke-linejoin="round">2025042214SR</text>
<line x1="18.00" x2="108.00" y1="1085.90" y2="1085.90" stroke="#045b8d" stroke-width="10"/>
<text transform="translate(136.18 1099.70) scale(1.0078 1)" font-size="40.00" fill="#fff" font-family='"Liberation Sans", sans-serif'  stroke="#fff" stroke-width="0.80" stroke-linejoin="round">2025042217SR</text>
<line x1="18.00" x2="108.00" y1="1144.90" y2="1144.90" stroke="#046195" stroke-width="10"/>
<text transform="translate(136.18 1158.70) scale(1.0078 1)" font-size="40.00" fill="#fff" font-family='"Liberation Sans", sans-serif'  stroke="#fff" stroke-width="0.80" stroke-linejoin="round">2025042220SR</text>
<line x1="18.00" x2="108.00" y1="1203.90" y2="1203.90" stroke="#04679d" stroke-width="10"/>
<text transform="translate(136.18 1217.70) scale(1.0078 1)" font-size="40.00" fill="#fff" font-family='"Liberation Sans", sans-serif'  stroke="#fff" stroke-width="0.80" stroke-linejoin="round">2025042223SR</text>
<line x1="18.00" x2="108.00" y1="1262.90" y2="1262.90" stroke="#046da5" stroke-width="10"/>
<text transform="translate(136.18 1276.70) scale(1.0078 1)" font-size="40.00" fill="#fff" font-family='"Liberation Sans", sans-serif'  stroke="#fff" stroke-width="0.80" stroke-linejoin="round">2025042226SR</text>
<line x1="18.00" x2="108.00" y1="1321.90" y2="1321.90" stroke="#0473ad" stroke-width="10"/>
<text transform="translate(136.18 1335.70) scale(1.0078 1)" font-size="40.00" fill="#fff" font-family='"Liberation Sans", sans-serif'  stroke="#fff" stroke-width="0.80" stroke-linejoin="round">2025042229SR</text>
<line x1="18.00" x2="108.00" y1="1380.90" y2="1380.90" stroke="#0479b5" stroke-width="10"/>
<text transform="translate(136.18 1394.70) scale(1.0078 1)" font-size="40.00" fill="#fff" font-family='"Liberation Sans", sans-serif'  stroke="#fff" stroke-width="0.80" stroke-linejoin="round">2025042232SR</text>
<line x1="18.00" x2="108.00" y1="1439.90" y2="1439.90" stroke="#0480be" stroke-width="10"/>
<text transform="translate(136.18 1453.70) scale(1.0078 1)" font-size="40.00" fill="#fff" font-family='"Liberation Sans", sans-serif'  stroke="#fff" stroke-width="0.80" stroke-linejoin="round">2025042235SR</text>
<line x1="18.00" x2="108.00" y1="1498.90" y2="1498.90" stroke="#0486c6" stroke-width="10"/>
<text transform="translate(136.18 1512.70) scale(1.0078 1)" font-size="40.00" fill="#fff" font-family='"Liberation Sans", sans-serif'  stroke="#fff" stroke-width="0.80" stroke-linejoin="round">2025042238SR</text>
<line x1="18.00" x2="108.00" y1="1557.90" y2="1557.90" stroke="#048cce" stroke-width="10"/>
<text transform="translate(136.18 1571.70) scale(1.0078 1)" font-size="40.00" fill="#fff" font-family='"Liberation Sans", sans-serif'  stroke="#fff" stroke-width="0.80" stroke-linejoin="round">2025042241SR</text>
<line x1="18.00" x2="108.00" y1="1616.90" y2="1616.90" stroke="#0492d6" stroke-width="10"/>
<text transform="translate(136.18 1630.70) scale(1.0078 1)" font-size="40.00" fill="#fff" font-family='"Liberation Sans", sans-serif'  stroke="#fff" stroke-width="0.80" stroke-linejoin="round">2025042244SR</text>
<rect x="3380.50" y="729.30" width="426.80" height="956.40" rx="7" ry="7" fill="#000" stroke="#a6a6a6" stroke-width="3"/>
<line x1="3391.00" x2="3481.00" y1="761.00" y2="761.00" stroke="#3e0304" stroke-width="10"/>
<text transform="translate(3508.68 774.80) scale(1.0078 1)" font-size="40.00" fill="#fff" font-family='"Liberation Sans", sans-serif'  stroke="#fff" stroke-width="0.80" stroke-linejoin="round">2025042201SS</text>
<line x1="3391.00" x2="3481.00" y1="820.00" y2="820.00" stroke="#4a0909" stroke-width="10"/>
<text transform="translate(3508.68 833.80) scale(1.0078 1)" font-size="40.00" fill="#fff" font-family='"Liberation Sans", sans-serif'  stroke="#fff" stroke-width="0.80" stroke-linejoin="round">2025042204SS</text>
<line x1="3391.00" x2="3481.00" y1="879.00" y2="879.00" stroke="#550e0d" stroke-width="10"/>
<text transform="translate(3508.68 892.80) scale(1.0078 1)" font-size="40.00" fill="#fff" font-family='"Liberation Sans", sans-serif'  stroke="#fff" stroke-width="0.80" stroke-linejoin="round">2025042207SS</text>
<line x1="3391.00" x2="3481.00" y1="938.00" y2="938.00" stroke="#611412" stroke-width="10"/>
<text transform="translate(3508.68 951.80) scale(1.0078 1)" font-size="40.00" fill="#fff" font-family='"Liberation Sans", sans-serif'  stroke="#fff" stroke-width="0.80" stroke-linejoin="round">2025042210SS</text>
<line x1="3391.00" x2="3481.00" y1="997.00" y2="997.00" stroke="#6d1a17" stroke-width="10"/>
<text transform="translate(3508.68 1010.80) scale(1.0078 1)" font-size="40.00" fill="#fff" font-family='"Liberation Sans", sans-serif'  stroke="#fff" stroke-width="0.80" stroke-linejoin="round">2025042213SS</text>
<line x1="3391.00" x2="3481.00" y1="1056.00" y2="1056.00" stroke="#791f1b" stroke-width="10"/>
<text transform="translate(3508.68 1069.80) scale(1.0078 1)" font-size="40.00" fill="#fff" font-family='"Liberation Sans", sans-serif'  stroke="#fff" stroke-width="0.80" stroke-linejoin="round">2025042216SS</text>
<line x1="3391.00" x2="3481.00" y1="1115.00" y2="1115.00" stroke="#842520" stroke-width="10"/>
<text transform="translate(3508.68 1128.80) scale(1.0078 1)" font-size="40.00" fill="#fff" font-family='"Liberation Sans", sans-serif'  stroke="#fff" stroke-width="0.80" stroke-linejoin="round">2025042219SS</text>
<line x1="3391.00" x2="3481.00" y1="1174.00" y2="1174.00" stroke="#902b25" stroke-width="10"/>
<text transform="translate(3508.68 1187.80) scale(1.0078 1)" font-size="40.00" fill="#fff" font-family='"Liberation Sans", sans-serif'  stroke="#fff" stroke-width="0.80" stroke-linejoin="round">2025042222SS</text>
<line x1="3391.00" x2="3481.00" y1="1233.00" y2="1233.00" stroke="#9c3029" stroke-width="10"/>
<text transform="translate(3508.68 1246.80) scale(1.0078 1)" font-size="40.00" fill="#fff" font-family='"Liberation Sans", sans-serif'  stroke="#fff" stroke-width="0.80" stroke-linejoin="round">2025042225SS</text>
<line x1="3391.00" x2="3481.00" y1="1292.00" y2="1292.00" stroke="#a8362e" stroke-width="10"/>
<text transform="translate(3508.68 1305.80) scale(1.0078 1)" font-size="40.00" fill="#fff" font-family='"Liberation Sans", sans-serif'  stroke="#fff" stroke-width="0.80" stroke-linejoin="round">2025042228SS</text>
<line x1="3391.00" x2="3481.00" y1="1351.00" y2="1351.00" stroke="#b33c33" stroke-width="10"/>
<text transform="translate(3508.68 1364.80) scale(1.0078 1)" font-size="40.00" fill="#fff" font-family='"Liberation Sans", sans-serif'  stroke="#fff" stroke-width="0.80" stroke-linejoin="round">2025042231SS</text>
<line x1="3391.00" x2="3481.00" y1="1410.00" y2="1410.00" stroke="#bf4137" stroke-width="10"/>
<text transform="translate(3508.68 1423.80) scale(1.0078 1)" font-size="40.00" fill="#fff" font-family='"Liberation Sans", sans-serif'  stroke="#fff" stroke-width="0.80" stroke-linejoin="round">2025042234SS</text>
<line x1="3391.00" x2="3481.00" y1="1469.00" y2="1469.00" stroke="#cb473c" stroke-width="10"/>
<text transform="translate(3508.68 1482.80) scale(1.0078 1)" font-size="40.00" fill="#fff" font-family='"Liberation Sans", sans-serif'  stroke="#fff" stroke-width="0.80" stroke-linejoin="round">2025042237SS</text>
<line x1="3391.00" x2="3481.00" y1="1528.00" y2="1528.00" stroke="#d74d41" stroke-width="10"/>
<text transform="translate(3508.68 1541.80) scale(1.0078 1)" font-size="40.00" fill="#fff" font-family='"Liberation Sans", sans-serif'  stroke="#fff" stroke-width="0.80" stroke-linejoin="round">2025042240SS</text>
<line x1="3391.00" x2="3481.00" y1="1587.00" y2="1587.00" stroke="#e25245" stroke-width="10"/>
<text transform="translate(3508.68 1600.80) scale(1.0078 1)" font-size="40.00" fill="#fff" font-family='"Liberation Sans", sans-serif'  stroke="#fff" stroke-width="0.80" stroke-linejoin="round">2025042243SS</text>
<line x1="3391.00" x2="3481.00" y1="1646.00" y2="1646.00" stroke="#ee584a" stroke-width="10"/>
<text transform="translate(3508.68 1659.80) scale(1.0078 1)" font-size="40.00" fill="#fff" font-family='"Liberation Sans", sans-serif'  stroke="#fff" stroke-width="0.80" stroke-linejoin="round">2025042246SS</text>
<line x1="40" x2="119.6" y1="1980" y2="1980" stroke="#fff" stroke-width="10" stroke-dasharray="37 16"/>
<line x1="40" x2="119.6" y1="2039.5" y2="2039.5" stroke="#fff" stroke-width="10" stroke-dasharray="10 16.5"/>
<rect x="40.5" y="2085.5" width="80" height="28.5" fill="#686b70" stroke="#9c9ea2" stroke-width="2.5"/>
<text transform="translate(151.23 1993.20) scale(1.0890 1)" font-size="39.86" fill="#fff" font-family='"Liberation Sans", sans-serif'  stroke="#fff" stroke-width="0.80" stroke-linejoin="round">Mean Tropopause</text>
<text transform="translate(151.20 2052.70) scale(1.0964 1)" font-size="39.86" fill="#fff" font-family='"Liberation Sans", sans-serif'  stroke="#fff" stroke-width="0.80" stroke-linejoin="round">Median Tropopause</text>
<text transform="translate(153.84 2112.00) scale(1.0793 1)" font-size="39.86" fill="#fff" font-family='"Liberation Sans", sans-serif'  stroke="#fff" stroke-width="0.80" stroke-linejoin="round">Tropopause Range</text>
<text transform="translate(3267.61 2038.80) scale(0.9456 1)" font-size="33.62" fill="#808080" font-family='"Liberation Sans", sans-serif'  stroke="#808080" stroke-width="0.67" stroke-linejoin="round">SAGE</text>
<text transform="translate(3366.80 2038.80) scale(0.7385 1)" font-size="35.20" fill="#808080" font-family='"Liberation Mono", monospace'  stroke="#808080" stroke-width="1.0" stroke-linejoin="miter">I</text>
<text transform="translate(3382.70 2038.80) scale(0.7385 1)" font-size="35.20" fill="#808080" font-family='"Liberation Mono", monospace'  stroke="#808080" stroke-width="1.0" stroke-linejoin="miter">I</text>
<text transform="translate(3398.80 2038.80) scale(0.7385 1)" font-size="35.20" fill="#808080" font-family='"Liberation Mono", monospace'  stroke="#808080" stroke-width="1.0" stroke-linejoin="miter">I</text>
<text transform="translate(3433.70 2038.80) scale(0.7385 1)" font-size="35.20" fill="#808080" font-family='"Liberation Mono", monospace'  stroke="#808080" stroke-width="1.0" stroke-linejoin="miter">I</text>
<text transform="translate(3415.98 2042.30) skewX(-11.24)" font-size="40.35" fill="#808080" font-family='"Liberation Sans", sans-serif'  stroke="#808080" stroke-width="0.81" stroke-linejoin="round">/</text>
<text transform="translate(3448.16 2038.80) scale(0.9073 1)" font-size="33.62" fill="#808080" font-family='"Liberation Sans", sans-serif'  stroke="#808080" stroke-width="0.67" stroke-linejoin="round">SS</text>
<text transform="translate(3500.38 2038.80) scale(1.0235 1)" font-size="33.62" fill="#808080" font-family='"Liberation Sans", sans-serif'  stroke="#808080" stroke-width="0.67" stroke-linejoin="round">Mission | NASA LaRC</text>
<text transform="translate(3311.28 2076.40) scale(1.0624 1)" font-size="33.62" fill="#808080" font-family='"Liberation Sans", sans-serif'  stroke="#808080" stroke-width="0.67" stroke-linejoin="round">Preparer: Kevin R. Leavor (AMA)</text>
<text transform="translate(3391.12 2113.40) scale(1.0223 1)" font-size="33.62" fill="#808080" font-family='"Liberation Sans", sans-serif'  stroke="#808080" stroke-width="0.67" stroke-linejoin="round">Generated 2025-10-31 14:16</text>
<text transform="translate(3532.90 2150.90) scale(1.0543 1)" font-size="33.62" fill="#808080" font-family='"Liberation Sans", sans-serif'  stroke="#808080" stroke-width="0.67" stroke-linejoin="round">Data Version: 6.0.0</text>
<g id="patch">
<path d="M3494.0 224.0 L3494.0 50.8 A33 33 0 0 1 3527.0 17.8 L3797.6 17.8 A33 33 0 0 1 3830.6 50.8 L3830.6 224.0 A168.29999999999995 168.29999999999995 0 0 1 3494.0 224.0Z" fill="#e4584a"/>
<path d="M3501.0 224.0 L3501.0 51.1 A27 27 0 0 1 3528.0 24.1 L3796.6 24.1 A27 27 0 0 1 3823.6 51.1 L3823.6 224.0 A161.3 159.6 0 0 1 3501.0 224.0Z" fill="#0b4f85"/>
<circle cx="3661.4" cy="220.2" r="140.9" fill="#c9cdd9"/>
<clipPath id="inner"><circle cx="3661.4" cy="220.2" r="126.0"/></clipPath>
<circle cx="3661.4" cy="220.2" r="126.0" fill="#0b4f85"/>
<g clip-path="url(#inner)">
<path d="M3599.9 149.7 L3623.1 161.3 L3661.2 192.8 L3692.7 232.5 L3722.5 282.2 L3739.9 317.0 L3749.0 335.3" fill="none" stroke="#186ca2" stroke-width="11" stroke-linejoin="round"/>
<path d="M3596.6 154.7 L3623.1 169.6 L3656.3 202.7 L3682.8 237.5 L3709.3 282.2 L3729.2 320.3" fill="none" stroke="#115d94" stroke-width="8" stroke-linejoin="round"/>
<path d="M3602.4 151.4 L3623.1 172.9 L3646.3 199.4 L3669.5 227.6 L3689.4 256.6 L3706.0 282.2 L3720.9 305.4 L3732.5 324.5 L3742.4 340.2 L3742.4 348.5 L3573.4 348.5 L3573.4 151.4Z" fill="#0c5088"/>
<path d="M3599.9 177.9 L3611.5 175.4 L3623.1 177.9 L3633.1 182.8 L3644.7 197.7 L3653.8 206.0 L3660.4 216.0 L3663.7 223.4 L3667.9 230.9 L3667.0 242.5 L3669.5 254.1 L3667.9 264.0 L3662.9 259.0 L3655.4 259.9 L3647.2 264.0 L3643.0 274.0 L3644.7 285.6 L3649.6 297.2 L3659.6 302.9 L3667.9 301.3 L3672.8 307.1 L3679.5 312.9 L3687.7 308.7 L3691.1 300.5 L3696.0 293.8 L3706.0 290.5 L3710.9 292.2 L3722.5 308.7 L3732.5 324.5 L3739.1 340.2 L3696.0 340.2 L3696.0 320.3 L3689.4 317.0 L3679.5 318.7 L3667.9 313.7 L3656.3 312.1 L3644.7 313.7 L3636.4 308.7 L3628.1 298.8 L3618.2 290.5 L3609.9 288.9 L3599.9 292.2 L3599.9 177.9Z" fill="#5a9f6e"/>
<path d="M3620.6 201.1 L3628.1 199.4 L3631.4 206.0 L3639.7 204.4 L3644.7 209.3 L3651.3 207.7 L3648.0 216.0 L3639.7 219.3 L3638.0 225.9 L3631.4 222.6 L3629.8 214.3 L3623.1 212.7Z" fill="#0c5088"/>
<path d="M3659.6 220.9 L3663.7 223.4 L3662.9 227.6 L3660.4 225.9Z" fill="#0c5088"/>
<path d="M3608.2 290.5 L3614.9 293.8 L3628.1 308.7 L3623.1 307.1 L3613.2 297.2Z" fill="#0c5088"/>
<path d="M3602.4 151.4 L3623.1 172.9 L3646.3 199.4 L3669.5 227.6 L3689.4 256.6 L3706.0 282.2 L3720.9 305.4 L3732.5 324.5 L3742.4 340.2" fill="none" stroke="#d4e6f4" stroke-width="1.3"/>
</g>
<line x1="3654.9" y1="159.0" x2="3714.6" y2="192.1" stroke="#d6e6f3" stroke-width="0.95"/>
<line x1="3644.7" y1="166.6" x2="3714.6" y2="192.1" stroke="#d6e6f3" stroke-width="0.95"/>
<line x1="3669.9" y1="227.2" x2="3714.6" y2="192.1" stroke="#d6e6f3" stroke-width="0.95"/>
<line x1="3675.5" y1="233.5" x2="3714.6" y2="192.1" stroke="#d6e6f3" stroke-width="0.95"/>
<line x1="3716.2" y1="192.8" x2="3722.5" y2="257.4" stroke="#d6e6f3" stroke-width="0.95"/>
<line x1="3717.9" y1="192.8" x2="3734.1" y2="256.6" stroke="#d6e6f3" stroke-width="0.95"/>
<clipPath id="moonc"><circle cx="3637.2" cy="143.9" r="24"/></clipPath>
<circle cx="3637.2" cy="143.9" r="24" fill="#c4c8d3"/>
<g clip-path="url(#moonc)"><circle cx="3640.7" cy="147.4" r="23" fill="#fff"/>
<circle cx="3631.2" cy="134.9" r="6" fill="#c4c8d3"/>
<circle cx="3640.2" cy="132.9" r="5" fill="#c4c8d3"/>
<circle cx="3646.2" cy="140.9" r="5.5" fill="#c4c8d3"/>
<circle cx="3641.2" cy="145.9" r="4.5" fill="#c4c8d3"/>
<circle cx="3634.2" cy="141.9" r="3.5" fill="#c4c8d3"/>
<circle cx="3648.2" cy="149.9" r="3" fill="#c4c8d3"/>
<circle cx="3626.2" cy="141.9" r="3" fill="#c4c8d3"/>
</g>
<clipPath id="sunc"><circle cx="3735.5" cy="280.6" r="23.2"/></clipPath>
<circle cx="3735.5" cy="280.6" r="23.2" fill="#c9cdd9"/>
<g clip-path="url(#sunc)"><circle cx="3741.5" cy="277.6" r="24.5" fill="#ffdf9c"/></g>
<path d="M3693.5 106.6 L3695.1 114.6 L3703.0 116.1 L3695.1 117.6 L3693.5 125.6 L3692.0 117.6 L3684.0 116.1 L3692.0 114.6Z" fill="#ffd76a"/>
<path d="M3680.3 121.3 L3681.3 126.4 L3686.3 127.3 L3681.3 128.3 L3680.3 133.3 L3679.3 128.3 L3674.3 127.3 L3679.3 126.4Z" fill="#fff"/>
<path d="M3703.5 126.5 L3704.2 130.3 L3708.0 131.0 L3704.2 131.7 L3703.5 135.5 L3702.8 131.7 L3699.0 131.0 L3702.8 130.3Z" fill="#fff"/>
<g transform="translate(3728.6 179.6) rotate(45)">
<rect x="-30" y="-1.1" width="60" height="2.2" fill="#d3d0c8"/>
<rect x="-32.00" y="-18.5" width="2.5" height="16.7" fill="#d3d0c8"/>
<rect x="-32.00" y="1.8" width="2.5" height="16.7" fill="#d3d0c8"/>
<rect x="-28.10" y="-18.5" width="2.5" height="16.7" fill="#d3d0c8"/>
<rect x="-28.10" y="1.8" width="2.5" height="16.7" fill="#d3d0c8"/>
<rect x="-24.20" y="-18.5" width="2.5" height="16.7" fill="#d3d0c8"/>
<rect x="-24.20" y="1.8" width="2.5" height="16.7" fill="#d3d0c8"/>
<rect x="-20.30" y="-18.5" width="2.5" height="16.7" fill="#d3d0c8"/>
<rect x="-20.30" y="1.8" width="2.5" height="16.7" fill="#d3d0c8"/>
<rect x="-16.40" y="-18.5" width="2.5" height="16.7" fill="#d3d0c8"/>
<rect x="-16.40" y="1.8" width="2.5" height="16.7" fill="#d3d0c8"/>
<rect x="-12.50" y="-18.5" width="2.5" height="16.7" fill="#d3d0c8"/>
<rect x="-12.50" y="1.8" width="2.5" height="16.7" fill="#d3d0c8"/>
<rect x="10.00" y="-18.5" width="2.5" height="16.7" fill="#d3d0c8"/>
<rect x="10.00" y="1.8" width="2.5" height="16.7" fill="#d3d0c8"/>
<rect x="13.90" y="-18.5" width="2.5" height="16.7" fill="#d3d0c8"/>
<rect x="13.90" y="1.8" width="2.5" height="16.7" fill="#d3d0c8"/>
<rect x="17.80" y="-18.5" width="2.5" height="16.7" fill="#d3d0c8"/>
<rect x="17.80" y="1.8" width="2.5" height="16.7" fill="#d3d0c8"/>
<rect x="21.70" y="-18.5" width="2.5" height="16.7" fill="#d3d0c8"/>
<rect x="21.70" y="1.8" width="2.5" height="16.7" fill="#d3d0c8"/>
<rect x="25.60" y="-18.5" width="2.5" height="16.7" fill="#d3d0c8"/>
<rect x="25.60" y="1.8" width="2.5" height="16.7" fill="#d3d0c8"/>
<rect x="29.50" y="-18.5" width="2.5" height="16.7" fill="#d3d0c8"/>
<rect x="29.50" y="1.8" width="2.5" height="16.7" fill="#d3d0c8"/>
<rect x="-6.5" y="-4" width="2" height="14" fill="#d3d0c8"/><rect x="-1.5" y="-6" width="2" height="18" fill="#d3d0c8"/><rect x="3.5" y="-4" width="1.8" height="12" fill="#d3d0c8"/>
<rect x="-9" y="4.0" width="17" height="1.7" fill="#d3d0c8"/><rect x="-8" y="8.2" width="13" height="1.6" fill="#d3d0c8"/><rect x="-5" y="-7.5" width="9" height="1.6" fill="#d3d0c8"/>
</g>
<path d="M3543.8 149.2 L3531.3 165.3 L3520.5 183.3 L3515.1 206.6 L3509.7 226.3 L3503.5 242.5 L3511.5 240.7 L3524.1 231.7 L3534.8 215.6 L3542.0 204.8 L3549.2 190.4Z" fill="#e2594b"/>
<path d="M3530.4 174.3 L3524.1 197.6 L3518.7 219.1 L3508.8 239.8 L3519.6 231.7 L3532.2 213.8 L3540.2 201.2 L3543.8 183.3Z" fill="#6a160f"/>
<path d="M3524.1 174.3 L3518.7 201.2 L3512.4 226.3 L3506.1 241.0 L3510.1 239.2 L3517.8 222.7 L3524.1 201.2 L3528.6 179.7Z" fill="#e2594b"/>
<path d="M3537.0 197.6 L3533.0 215.6 L3525.9 229.9 L3535.7 215.6 L3542.0 204.8Z" fill="#c43f33"/>
<path d="M3538.4 204.8 L3534.8 219.1 L3528.6 233.5 L3543.8 238.9 L3551.0 251.4 L3549.2 226.3 L3543.8 206.6Z" fill="#6a160f"/>
<path d="M3545.6 190.4 L3565.3 183.3 L3583.3 186.9 L3601.2 190.4 L3608.4 197.6 L3607.5 215.6 L3605.7 226.3 L3606.6 269.4 L3607.5 332.2 L3601.2 330.4 L3590.4 321.4 L3579.7 310.6 L3568.9 299.9 L3561.7 285.5 L3554.6 262.2 L3549.2 242.5 L3542.0 226.3 L3540.2 208.4Z" fill="#e2594b"/>
<path d="M3558.2 233.5 L3566.2 269.4 L3574.3 296.3 L3580.6 309.7 L3574.3 269.4 L3566.2 231.7Z" fill="#9b2a20"/>
<path d="M3573.4 231.7 L3582.4 269.4 L3590.4 305.2 L3596.2 324.1 L3593.1 278.3 L3584.2 232.6Z" fill="#9b2a20"/>
<path d="M3590.1 233.5 L3597.3 269.4 L3602.1 314.2 L3605.2 329.5 L3603.0 269.4 L3598.9 233.5Z" fill="#9b2a20"/>
<path d="M3550.1 215.6 L3555.5 244.3 L3561.7 266.7 L3559.6 237.1 L3555.5 215.6Z" fill="#9b2a20"/>
<path d="M3565.3 238.9 L3570.7 269.4 L3577.9 296.3 L3574.3 269.4 L3569.8 238.9Z" fill="#9b2a20"/>
<path d="M3543.8 244.3 L3551.0 265.8 L3561.7 290.9 L3569.3 300.2 L3561.7 278.3 L3554.6 256.8 L3549.2 240.7Z" fill="#6a160f"/>
<path d="M3605.2 229.9 L3606.6 269.4 L3607.5 332.2 L3604.8 330.4 L3603.4 269.4 L3602.1 231.7Z" fill="#c43f33"/>
<path d="M3554.1 192.6 L3561.8 195.5 L3569.6 199.3 L3577.3 197.4 L3585.0 199.3 L3592.8 198.4 L3600.5 196.4 L3607.2 197.4 L3607.7 204.2 L3602.4 215.8 L3592.8 213.8 L3579.2 210.0 L3567.6 206.1 L3558.0 202.2Z" fill="#e2594b"/>
<path d="M3561.8 196.4 L3567.6 204.2 L3573.4 208.0 L3569.6 200.3Z" fill="#c43f33"/>
<path d="M3577.3 198.4 L3582.1 207.1 L3587.0 210.9 L3584.1 200.3Z" fill="#c43f33"/>
<path d="M3592.8 199.3 L3596.6 209.0 L3600.5 213.8 L3599.5 199.3Z" fill="#c43f33"/>
<path d="M3556.5 203.7 L3567.6 208.5 L3579.2 212.4 L3590.8 215.3 L3604.8 216.9 L3605.3 226.4 L3590.8 225.4 L3577.8 222.3 L3566.2 218.2 L3554.9 212.4Z" fill="#7a3a18"/>
<path d="M3558.0 207.1 L3579.2 215.8 L3603.4 220.6 L3603.4 222.3 L3578.7 218.2 L3557.5 209.5Z" fill="#b9733a"/>
<polygon points="3603.5,225.2 3596.7,232.0 3587.4,229.5 3584.9,220.2 3591.7,213.5 3601.0,215.9" fill="#c98440"/>
<polygon points="3600.6,224.4 3595.9,229.1 3589.5,227.4 3587.8,221.0 3592.5,216.4 3598.9,218.1" fill="#5a1a10"/>
<text x="3594.2" y="226.1" font-size="9.5" font-style="italic" font-weight="bold" text-anchor="middle" fill="#d9924c" font-family='"Liberation Serif", serif'>S</text>
<path d="M3546.4 180.0 L3554.1 185.3 L3559.9 188.2 L3567.6 193.1 L3575.4 191.1 L3584.1 193.1 L3592.8 192.1 L3600.5 190.2 L3607.7 191.6 L3607.7 196.4 L3600.5 195.0 L3592.8 196.9 L3584.1 197.9 L3575.4 196.0 L3567.6 198.4 L3559.9 194.0 L3554.1 191.1 L3548.3 187.8Z" fill="#9b2a20"/>
<path d="M3542.5 153.0 L3550.2 149.1 L3558.0 149.6 L3563.8 153.0 L3567.6 162.6 L3573.4 172.3 L3579.2 182.0 L3585.0 187.8 L3592.8 190.7 L3600.5 187.8 L3604.3 182.0 L3607.2 172.3 L3608.4 182.0 L3607.4 191.6 L3600.5 190.2 L3592.8 192.1 L3584.1 193.1 L3575.4 191.1 L3567.6 193.1 L3559.9 188.2 L3554.1 185.3 L3548.3 182.0 L3545.2 178.1 L3545.2 168.4 L3543.5 160.7Z" fill="#e2594b"/>
<path d="M3550.2 156.8 L3558.0 162.6 L3565.7 174.2 L3571.5 184.9 L3567.6 191.6 L3560.9 187.3 L3558.0 178.1 L3554.1 168.4Z" fill="#c43f33"/>
<path d="M3545.4 162.6 L3550.2 168.4 L3554.1 180.0 L3555.6 184.4 L3548.8 181.5 L3545.6 177.6Z" fill="#9b2a20"/>
<path d="M3542.5 153.0 L3532.9 160.7 L3524.2 172.3 L3529.0 178.1 L3536.7 172.3 L3545.4 170.4Z" fill="#e2594b"/>
<path d="M3529.0 178.1 L3531.9 191.6 L3529.0 206.1 L3524.2 220.6 L3531.9 210.9 L3538.6 196.4 L3540.6 191.6 L3536.7 185.8Z" fill="#6a160f"/>
<path d="M3600.5 166.5 L3609.2 168.4 L3617.4 171.3 L3615.5 177.1 L3609.2 187.8 L3604.3 184.9 L3601.4 177.1Z" fill="#7d2f18"/>
<path d="M3611.1 170.8 L3616.6 172.3 L3609.9 185.8 L3606.8 183.1Z" fill="#c98440"/>
<path d="M3607.4 181.2 L3613.5 179.3 L3616.4 184.1 L3615.0 190.7 L3609.4 192.6 L3606.3 187.9Z" fill="#e9ad6e"/>
<path d="M3607.4 185.8 L3615.5 184.4 L3615.2 186.3 L3607.2 187.8Z" fill="#c98a4b"/>
<path d="M3558.0 149.6 L3567.6 143.3 L3587.0 153.0 L3607.2 162.6 L3607.4 172.3 L3604.3 182.0 L3600.5 187.8 L3592.8 190.8 L3585.0 187.9 L3579.2 182.1 L3573.4 172.5 L3567.6 162.8 L3563.8 153.2Z" fill="#c43f33"/>
<path d="M3559.9 145.2 L3567.6 139.0 L3576.3 133.6 L3585.0 129.3 L3594.7 127.9 L3602.4 131.2 L3607.4 137.5 L3605.3 140.4 L3596.6 133.6 L3589.9 133.6 L3583.1 137.5 L3579.2 143.3 L3580.2 149.1 L3584.1 154.9 L3590.8 157.8 L3599.5 161.7 L3602.6 168.4 L3601.2 182.0 L3595.7 187.9 L3588.9 190.8 L3583.1 187.0 L3580.0 180.0 L3577.3 168.4 L3571.5 158.8 L3565.7 152.0Z" fill="#fff"/>
<path d="M3582.1 139.0 L3587.0 135.1 L3592.8 133.2 L3599.5 134.1 L3605.3 138.5 L3604.5 144.8 L3602.4 148.6 L3603.2 153.5 L3599.5 156.8 L3592.8 157.3 L3587.0 155.1 L3582.3 149.6 L3580.8 143.8Z" fill="#e9ad6e"/>
<path d="M3582.1 138.5 L3587.4 135.4 L3587.0 145.2 L3585.0 153.0 L3582.1 149.1 L3580.7 143.3Z" fill="#c98a4b"/>
<path d="M3590.3 145.2 L3601.0 148.3 L3600.8 149.7 L3590.1 146.8Z" fill="#5a3418"/>
<path d="M3589.4 157.0 L3596.6 155.1 L3600.7 158.8 L3599.7 162.8 L3592.8 162.1Z" fill="#fff"/>
<path d="M3592.8 161.7 L3599.5 162.6 L3598.6 164.6 L3593.7 163.8Z" fill="#b9bcc6"/>
<path d="M3534.0 122.5 L3538.6 149.1 L3543.2 175.2 L3546.9 206.1 L3550.2 235.0 L3548.3 226.3 L3552.8 256.8 L3559.1 271.2 L3561.7 283.7 L3563.9 293.6" fill="none" stroke="#b1602a" stroke-width="5" stroke-linejoin="round" stroke-linecap="round"/>
<path d="M3535.4 123.0 L3540.0 149.1 L3544.5 175.2 L3548.2 206.1 L3551.6 235.0 L3549.7 226.3 L3554.2 256.8 L3560.5 271.2 L3563.2 283.7" fill="none" stroke="#e0a15a" stroke-width="1.5" stroke-linejoin="round"/>
<circle cx="3532.9" cy="113.4" r="10.6" fill="#fff"/><circle cx="3534.2" cy="112.8" r="8.7" fill="#c9cdd9"/>
<path d="M3529.0 177.1 L3534.8 173.5 L3543.5 172.3 L3548.5 177.1 L3549.0 184.9 L3545.4 192.6 L3538.6 194.7 L3532.9 190.7 L3529.0 184.9Z" fill="#e9ad6e"/>
<path d="M3542.5 172.3 L3543.7 179.1 L3545.4 191.6" fill="none" stroke="#b1602a" stroke-width="3.4"/>
<path d="M3531.4 179.5 L3538.6 178.6 L3547.8 177.4" fill="none" stroke="#b97d45" stroke-width="1.1"/>
<path d="M3531.4 184.4 L3538.6 183.4 L3547.8 182.2" fill="none" stroke="#b97d45" stroke-width="1.1"/>
<path d="M3531.4 189.2 L3538.6 188.2 L3547.8 187.1" fill="none" stroke="#b97d45" stroke-width="1.1"/>
<text transform="translate(3525.86 58.90) scale(1.0614 1)" font-size="40.15" font-weight="bold" fill="#fff" font-family='"Liberation Serif", serif' >SAGE III</text>
<text transform="translate(3736.12 58.90) scale(0.9822 1)" font-size="40.15" font-weight="bold" fill="#fff" font-family='"Liberation Serif", serif' >ISS</text>
<circle cx="3716.2" cy="45.8" r="4.3" fill="#fff"/>
<text transform="translate(3527.21 71.40) scale(1.0194 1)" font-size="8.55" fill="#dfe8f2" font-family='"Liberation Sans", sans-serif' >Stratospheric Aerosol and Gas Experiment III</text>
<text transform="translate(3736.33 71.40) scale(1.1290 1)" font-size="8.55" fill="#dfe8f2" font-family='"Liberation Sans", sans-serif' >International</text>
<text transform="translate(3733.16 82.70) scale(1.1360 1)" font-size="8.55" fill="#dfe8f2" font-family='"Liberation Sans", sans-serif' >Space Station</text>
<path id="arcp" d="M3507.4 258.0 A158.6 158.6 0 0 0 3819.3 234.6" fill="none"/>
<text font-size="13.3" font-weight="bold" fill="#fff" font-family='"Liberation Sans", sans-serif' textLength="445.7" lengthAdjust="spacing"><textPath href="#arcp" startOffset="0">BALL  •  NASA LANGLEY RESEARCH CENTER  •  TAS-I  •  ESA</textPath></text>
</g>
</svg>
</body></html>
